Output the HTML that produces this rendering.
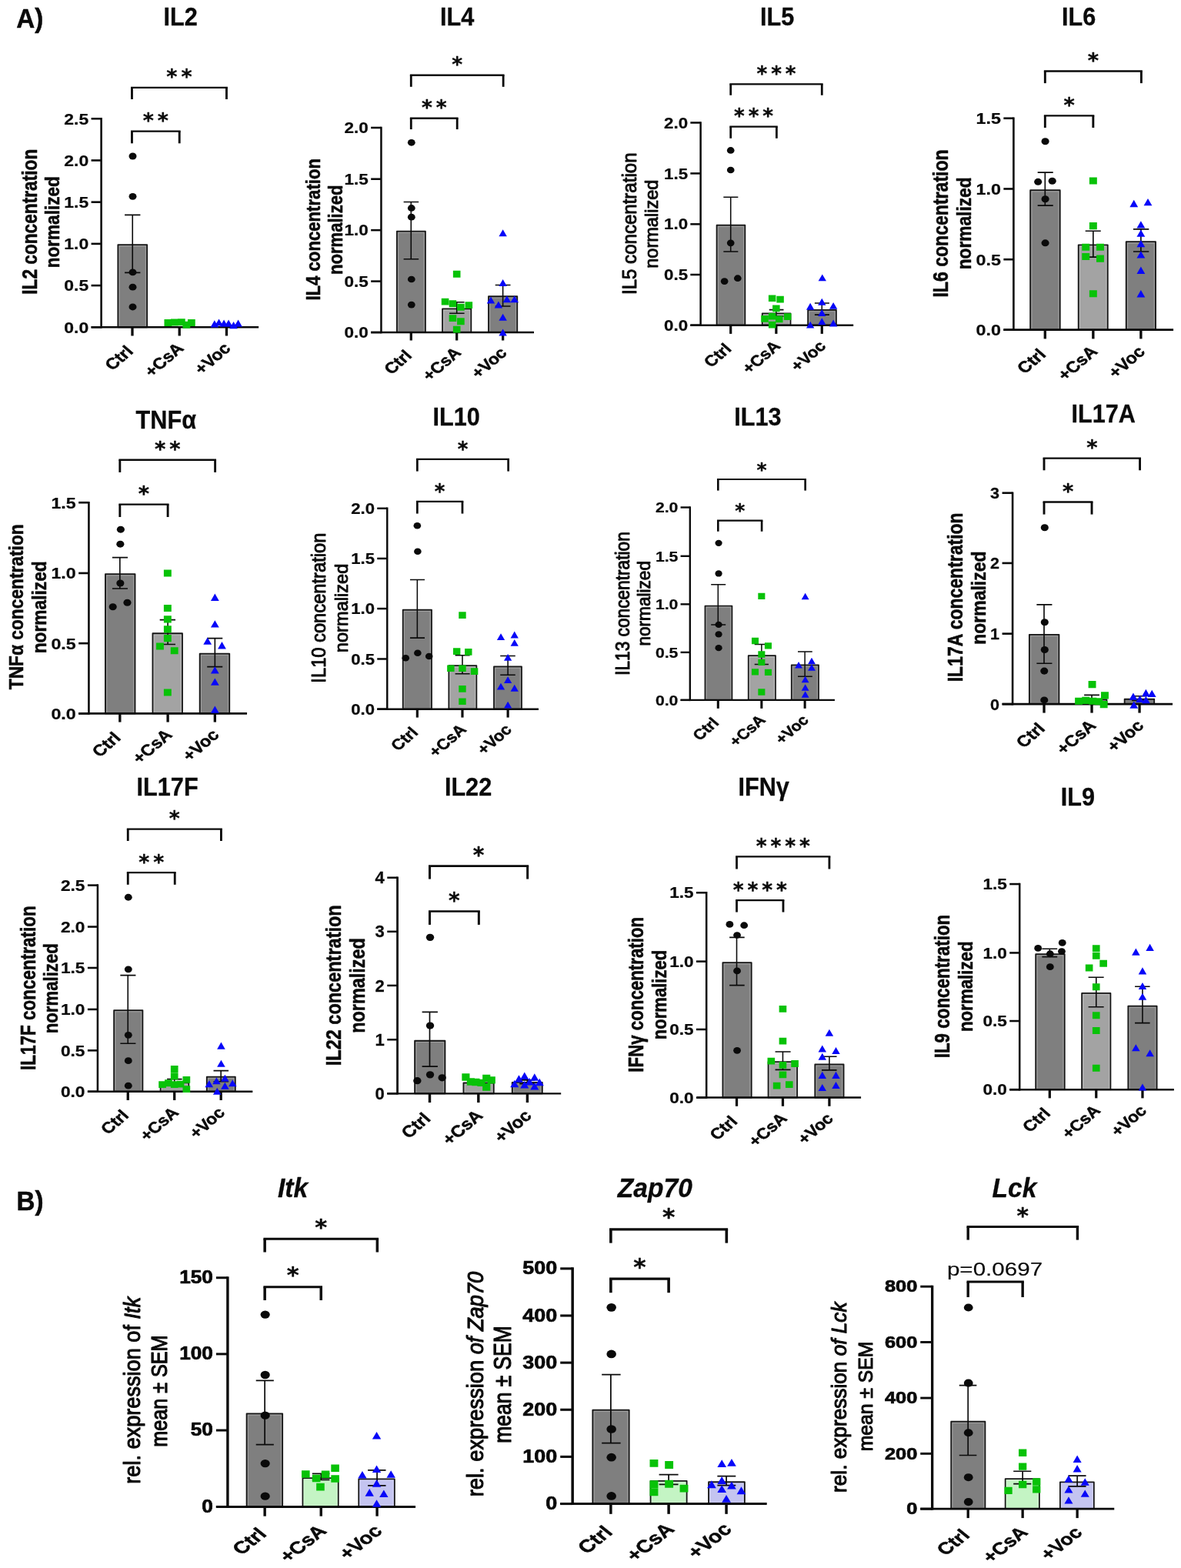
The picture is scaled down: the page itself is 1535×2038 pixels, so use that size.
<!DOCTYPE html>
<html lang="en">
<head>
<meta charset="utf-8">
<title>Cytokine concentrations and kinase expression</title>
<style>
html,body{margin:0;padding:0;background:#fff;}
body{width:1535px;height:2038px;overflow:hidden;}
svg{display:block;}
.s{font-family:"DejaVu Sans","Liberation Sans",sans-serif;}
</style>
</head>
<body>
<svg width="1535" height="2038" viewBox="0 0 1535 2038">
<rect x="0" y="0" width="1535" height="2038" fill="#ffffff"/>
<g font-family='"Liberation Sans", Arial, Helvetica, sans-serif' font-weight="bold" text-anchor="middle" fill="#0a0a0a" stroke="#0a0a0a" stroke-width="0" stroke-linejoin="round">
<g id="p-IL2">
<text transform="translate(234.53 32.87) scale(0.94 1)" font-size="32.6" stroke-width="0.3">IL2</text>
<rect x="153.34" y="318.03" width="37.81" height="107.24" fill="#7f7f7f" stroke="#161616" stroke-width="1.8"/>
<path d="M155.14 423.78V319.83H189.35V423.78" fill="none" stroke="#fff" stroke-opacity="0.3" stroke-width="0.9"/>
<path d="M162.08 279.35H182.41M162.08 354.4H182.41M172.25 279.35V354.4" fill="none" stroke="#0a0a0a" stroke-width="1.6"/>
<line x1="131.6" y1="152.97" x2="131.6" y2="426.58" stroke="#0a0a0a" stroke-width="2.55"/>
<line x1="118.57" y1="425.28" x2="336.16" y2="425.28" stroke="#0a0a0a" stroke-width="2.6"/>
<line x1="118.57" y1="154.27" x2="131.6" y2="154.27" stroke="#0a0a0a" stroke-width="2.6"/>
<text transform="translate(115.17 161.62) scale(1.11 1)" font-size="20.7" stroke-width="0.25" text-anchor="end">2.5</text>
<line x1="118.57" y1="208.47" x2="131.6" y2="208.47" stroke="#0a0a0a" stroke-width="2.6"/>
<text transform="translate(115.17 215.82) scale(1.11 1)" font-size="20.7" stroke-width="0.25" text-anchor="end">2.0</text>
<line x1="118.57" y1="262.67" x2="131.6" y2="262.67" stroke="#0a0a0a" stroke-width="2.6"/>
<text transform="translate(115.17 270.02) scale(1.11 1)" font-size="20.7" stroke-width="0.25" text-anchor="end">1.5</text>
<line x1="118.57" y1="316.87" x2="131.6" y2="316.87" stroke="#0a0a0a" stroke-width="2.6"/>
<text transform="translate(115.17 324.22) scale(1.11 1)" font-size="20.7" stroke-width="0.25" text-anchor="end">1.0</text>
<line x1="118.57" y1="371.07" x2="131.6" y2="371.07" stroke="#0a0a0a" stroke-width="2.6"/>
<text transform="translate(115.17 378.42) scale(1.11 1)" font-size="20.7" stroke-width="0.25" text-anchor="end">0.5</text>
<line x1="118.57" y1="425.28" x2="131.6" y2="425.28" stroke="#0a0a0a" stroke-width="2.6"/>
<text transform="translate(115.17 432.63) scale(1.11 1)" font-size="20.7" stroke-width="0.25" text-anchor="end">0.0</text>
<line x1="171.99" y1="425.28" x2="171.99" y2="436.48" stroke="#0a0a0a" stroke-width="3.3"/>
<line x1="233.22" y1="425.28" x2="233.22" y2="436.48" stroke="#0a0a0a" stroke-width="3.3"/>
<line x1="294.46" y1="425.28" x2="294.46" y2="436.48" stroke="#0a0a0a" stroke-width="3.3"/>
<text transform="translate(176.99 455.48) scale(1.15 1) rotate(-45)" font-size="20.3" stroke-width="0.5" text-anchor="end" x="-3.3">Ctrl</text>
<text transform="translate(238.22 455.48) scale(1.15 1) rotate(-45)" font-size="20.3" stroke-width="0.5" text-anchor="end" x="2.2">+CsA</text>
<text transform="translate(299.46 455.48) scale(1.15 1) rotate(-45)" font-size="20.3" stroke-width="0.5" text-anchor="end" x="1.9">+Voc</text>
<text transform="translate(47.6 288.26) scale(1.2 1) rotate(-90)" font-size="22.69" stroke-width="0.5">IL2 concentration</text>
<text transform="translate(77.1 288.75) scale(1.15 1) rotate(-90)" font-size="22.56" stroke-width="0.5">normalized</text>
<ellipse cx="172.51" cy="203" rx="5" ry="4.45" fill="#0a0a0a"/>
<ellipse cx="172.51" cy="255.37" rx="5" ry="4.45" fill="#0a0a0a"/>
<ellipse cx="172.51" cy="353.88" rx="5" ry="4.45" fill="#0a0a0a"/>
<ellipse cx="172.51" cy="373.16" rx="5" ry="4.45" fill="#0a0a0a"/>
<ellipse cx="172.51" cy="398.96" rx="5" ry="4.45" fill="#0a0a0a"/>
<path d="M213.47 415.04h9.8v9h-9.8zM221.81 414.52h9.8v9h-9.8zM230.93 414.26h9.8v9h-9.8zM237.45 417.65h9.8v9h-9.8zM243.96 415.04h9.8v9h-9.8z" fill="#08c208"/>
<path d="M278.83 416.25l5.35 9.2h-10.7zM284.56 414.42l5.35 9.2h-10.7zM291.07 415.46l5.35 9.2h-10.7zM297.07 415.46l5.35 9.2h-10.7zM303.58 418.07l5.35 9.2h-10.7zM309.58 415.46l5.35 9.2h-10.7z" fill="#0808f8"/>
<line x1="170.04" y1="113.88" x2="295.89" y2="113.88" stroke="#0a0a0a" stroke-width="2.35"/>
<line x1="171.47" y1="113.88" x2="171.47" y2="128.99" stroke="#0a0a0a" stroke-width="2.85"/>
<line x1="294.46" y1="113.88" x2="294.46" y2="128.99" stroke="#0a0a0a" stroke-width="2.85"/>
<text transform="translate(235.46 109.35)" font-size="27" stroke-width="0.35" class="s" letter-spacing="5">**</text>
<line x1="170.04" y1="170.68" x2="234.65" y2="170.68" stroke="#0a0a0a" stroke-width="2.35"/>
<line x1="171.47" y1="170.68" x2="171.47" y2="186.32" stroke="#0a0a0a" stroke-width="2.85"/>
<line x1="233.22" y1="170.68" x2="233.22" y2="186.32" stroke="#0a0a0a" stroke-width="2.85"/>
<text transform="translate(204.85 166.15)" font-size="27" stroke-width="0.35" class="s" letter-spacing="5">**</text>
</g>
<g id="p-IL4">
<text transform="translate(594.2 32.87) scale(0.94 1)" font-size="32.6" stroke-width="0.3">IL4</text>
<rect x="515.87" y="300.56" width="37.06" height="131.49" fill="#7f7f7f" stroke="#161616" stroke-width="1.77"/>
<path d="M517.65 430.55V302.34H551.14V430.55" fill="none" stroke="#fff" stroke-opacity="0.3" stroke-width="0.9"/>
<rect x="575.02" y="401.4" width="37.32" height="30.65" fill="#a3a3a3" stroke="#161616" stroke-width="1.77"/>
<path d="M576.8 430.55V403.19H610.56V430.55" fill="none" stroke="#fff" stroke-opacity="0.3" stroke-width="0.9"/>
<rect x="634.96" y="385.25" width="37.32" height="46.8" fill="#7f7f7f" stroke="#161616" stroke-width="1.77"/>
<path d="M636.74 430.55V387.03H670.49V430.55" fill="none" stroke="#fff" stroke-opacity="0.3" stroke-width="0.9"/>
<path d="M524.63 262.41H544.17M524.63 336.68H544.17M534.27 262.41V336.68" fill="none" stroke="#0a0a0a" stroke-width="1.57"/>
<path d="M584.04 392.7H603.58M584.04 407.3H603.58M593.68 392.7V407.3" fill="none" stroke="#0a0a0a" stroke-width="1.57"/>
<path d="M643.71 370.55H663.52M643.71 397.92H663.52M653.62 370.55V397.92" fill="none" stroke="#0a0a0a" stroke-width="1.57"/>
<line x1="495.44" y1="164.72" x2="495.44" y2="433.33" stroke="#0a0a0a" stroke-width="2.5"/>
<line x1="482.15" y1="432.05" x2="694.01" y2="432.05" stroke="#0a0a0a" stroke-width="2.55"/>
<line x1="482.15" y1="165.99" x2="495.44" y2="165.99" stroke="#0a0a0a" stroke-width="2.55"/>
<text transform="translate(478.81 173.21) scale(1.11 1)" font-size="20.32" stroke-width="0.25" text-anchor="end">2.0</text>
<line x1="482.15" y1="232.7" x2="495.44" y2="232.7" stroke="#0a0a0a" stroke-width="2.55"/>
<text transform="translate(478.81 239.92) scale(1.11 1)" font-size="20.32" stroke-width="0.25" text-anchor="end">1.5</text>
<line x1="482.15" y1="299.15" x2="495.44" y2="299.15" stroke="#0a0a0a" stroke-width="2.55"/>
<text transform="translate(478.81 306.37) scale(1.11 1)" font-size="20.32" stroke-width="0.25" text-anchor="end">1.0</text>
<line x1="482.15" y1="365.6" x2="495.44" y2="365.6" stroke="#0a0a0a" stroke-width="2.55"/>
<text transform="translate(478.81 372.82) scale(1.11 1)" font-size="20.32" stroke-width="0.25" text-anchor="end">0.5</text>
<line x1="482.15" y1="432.05" x2="495.44" y2="432.05" stroke="#0a0a0a" stroke-width="2.55"/>
<text transform="translate(478.81 439.27) scale(1.11 1)" font-size="20.32" stroke-width="0.25" text-anchor="end">0.0</text>
<line x1="534.27" y1="432.05" x2="534.27" y2="442.48" stroke="#0a0a0a" stroke-width="3.24"/>
<line x1="593.68" y1="432.05" x2="593.68" y2="442.48" stroke="#0a0a0a" stroke-width="3.24"/>
<line x1="653.62" y1="432.05" x2="653.62" y2="442.48" stroke="#0a0a0a" stroke-width="3.24"/>
<text transform="translate(539.18 461.13) scale(1.15 1) rotate(-45)" font-size="19.93" stroke-width="0.5" text-anchor="end" x="-3.24">Ctrl</text>
<text transform="translate(598.59 461.13) scale(1.15 1) rotate(-45)" font-size="19.93" stroke-width="0.5" text-anchor="end" x="2.16">+CsA</text>
<text transform="translate(658.52 461.13) scale(1.15 1) rotate(-45)" font-size="19.93" stroke-width="0.5" text-anchor="end" x="1.87">+Voc</text>
<text transform="translate(415.9 298.3) scale(1.2 1) rotate(-90)" font-size="22.17" stroke-width="0.5">IL4 concentration</text>
<text transform="translate(444.9 298.75) scale(1.15 1) rotate(-90)" font-size="22.13" stroke-width="0.5">normalized</text>
<ellipse cx="534.79" cy="185.28" rx="4.91" ry="4.37" fill="#0a0a0a"/>
<ellipse cx="534.79" cy="270.49" rx="4.91" ry="4.37" fill="#0a0a0a"/>
<ellipse cx="534.79" cy="282.21" rx="4.91" ry="4.37" fill="#0a0a0a"/>
<ellipse cx="534.79" cy="363" rx="4.91" ry="4.37" fill="#0a0a0a"/>
<ellipse cx="534.79" cy="396.09" rx="4.91" ry="4.37" fill="#0a0a0a"/>
<path d="M588.87 351.8h9.62v8.84h-9.62zM573.76 387.76h9.62v8.84h-9.62zM583.66 390.37h9.62v8.84h-9.62zM604.51 392.19h9.62v8.84h-9.62zM594.08 394.8h9.62v8.84h-9.62zM583.66 409.13h9.62v8.84h-9.62zM594.08 413.3h9.62v8.84h-9.62zM588.87 423.73h9.62v8.84h-9.62z" fill="#08c208"/>
<path d="M653.62 298.29l5.25 9.03h-10.5zM653.62 362.91l5.25 9.03h-10.5zM637.98 385.58l5.25 9.03h-10.5zM658.83 384.28l5.25 9.03h-10.5zM668.73 384.28l5.25 9.03h-10.5zM647.88 391.58l5.25 9.03h-10.5zM653.62 407.73l5.25 9.03h-10.5zM653.62 427.54l5.25 9.03h-10.5z" fill="#0808f8"/>
<line x1="532.87" y1="97.72" x2="655.54" y2="97.72" stroke="#0a0a0a" stroke-width="2.31"/>
<line x1="534.27" y1="97.72" x2="534.27" y2="112.83" stroke="#0a0a0a" stroke-width="2.8"/>
<line x1="654.14" y1="97.72" x2="654.14" y2="112.83" stroke="#0a0a0a" stroke-width="2.8"/>
<text transform="translate(596.66 93.27)" font-size="26.51" stroke-width="0.35" class="s" letter-spacing="4.91">*</text>
<line x1="532.87" y1="153.75" x2="595.6" y2="153.75" stroke="#0a0a0a" stroke-width="2.31"/>
<line x1="534.27" y1="153.75" x2="534.27" y2="168.08" stroke="#0a0a0a" stroke-width="2.8"/>
<line x1="594.2" y1="153.75" x2="594.2" y2="168.08" stroke="#0a0a0a" stroke-width="2.8"/>
<text transform="translate(566.69 149.3)" font-size="26.51" stroke-width="0.35" class="s" letter-spacing="4.91">**</text>
</g>
<g id="p-IL5">
<text transform="translate(1010.16 32.87) scale(0.94 1)" font-size="32.6" stroke-width="0.3">IL5</text>
<rect x="931.56" y="292.73" width="36.82" height="129.94" fill="#7f7f7f" stroke="#161616" stroke-width="1.75"/>
<path d="M933.33 421.17V294.5H966.6V421.17" fill="none" stroke="#fff" stroke-opacity="0.3" stroke-width="0.9"/>
<rect x="990.71" y="407.39" width="36.82" height="15.28" fill="#a3a3a3" stroke="#161616" stroke-width="1.75"/>
<path d="M992.49 421.17V409.16H1025.76V421.17" fill="none" stroke="#fff" stroke-opacity="0.3" stroke-width="0.9"/>
<rect x="1050.12" y="402.96" width="36.82" height="19.71" fill="#7f7f7f" stroke="#161616" stroke-width="1.75"/>
<path d="M1051.9 421.17V404.73H1085.17V421.17" fill="none" stroke="#fff" stroke-opacity="0.3" stroke-width="0.9"/>
<path d="M940.33 256.16H959.35M940.33 327.04H959.35M949.71 256.16V327.04" fill="none" stroke="#0a0a0a" stroke-width="1.55"/>
<path d="M999.74 402.61H1018.5M999.74 410.94H1018.5M1008.86 402.61V410.94" fill="none" stroke="#0a0a0a" stroke-width="1.55"/>
<path d="M1058.89 394.01H1077.92M1058.89 409.12H1077.92M1068.27 394.01V409.12" fill="none" stroke="#0a0a0a" stroke-width="1.55"/>
<line x1="910.62" y1="158.22" x2="910.62" y2="423.93" stroke="#0a0a0a" stroke-width="2.48"/>
<line x1="897.33" y1="422.67" x2="1109.19" y2="422.67" stroke="#0a0a0a" stroke-width="2.53"/>
<line x1="897.33" y1="159.48" x2="910.62" y2="159.48" stroke="#0a0a0a" stroke-width="2.53"/>
<text transform="translate(894.03 166.62) scale(1.11 1)" font-size="20.1" stroke-width="0.25" text-anchor="end">2.0</text>
<line x1="897.33" y1="225.41" x2="910.62" y2="225.41" stroke="#0a0a0a" stroke-width="2.53"/>
<text transform="translate(894.03 232.54) scale(1.11 1)" font-size="20.1" stroke-width="0.25" text-anchor="end">1.5</text>
<line x1="897.33" y1="291.34" x2="910.62" y2="291.34" stroke="#0a0a0a" stroke-width="2.53"/>
<text transform="translate(894.03 298.47) scale(1.11 1)" font-size="20.1" stroke-width="0.25" text-anchor="end">1.0</text>
<line x1="897.33" y1="357" x2="910.62" y2="357" stroke="#0a0a0a" stroke-width="2.53"/>
<text transform="translate(894.03 364.14) scale(1.11 1)" font-size="20.1" stroke-width="0.25" text-anchor="end">0.5</text>
<line x1="897.33" y1="422.67" x2="910.62" y2="422.67" stroke="#0a0a0a" stroke-width="2.53"/>
<text transform="translate(894.03 429.81) scale(1.11 1)" font-size="20.1" stroke-width="0.25" text-anchor="end">0.0</text>
<line x1="949.71" y1="422.67" x2="949.71" y2="433.88" stroke="#0a0a0a" stroke-width="3.2"/>
<line x1="1008.86" y1="422.67" x2="1008.86" y2="433.88" stroke="#0a0a0a" stroke-width="3.2"/>
<line x1="1068.27" y1="422.67" x2="1068.27" y2="433.88" stroke="#0a0a0a" stroke-width="3.2"/>
<text transform="translate(954.56 452.33) scale(1.15 1) rotate(-45)" font-size="19.72" stroke-width="0.5" text-anchor="end" x="-3.2">Ctrl</text>
<text transform="translate(1013.72 452.33) scale(1.15 1) rotate(-45)" font-size="19.72" stroke-width="0.5" text-anchor="end" x="2.14">+CsA</text>
<text transform="translate(1073.13 452.33) scale(1.15 1) rotate(-45)" font-size="19.72" stroke-width="0.5" text-anchor="end" x="1.85">+Voc</text>
<text transform="translate(827.2 290.73) scale(1.1 1) rotate(-90)" font-size="24.06" font-weight="normal" stroke-width="0.9">IL5 concentration</text>
<text transform="translate(855.3 291.22) scale(1.04 1) rotate(-90)" font-size="23.57" font-weight="normal" stroke-width="0.9">normalized</text>
<ellipse cx="949.71" cy="195.44" rx="4.86" ry="4.32" fill="#0a0a0a"/>
<ellipse cx="949.71" cy="220.98" rx="4.86" ry="4.32" fill="#0a0a0a"/>
<ellipse cx="949.71" cy="315.83" rx="4.86" ry="4.32" fill="#0a0a0a"/>
<ellipse cx="941.63" cy="365.6" rx="4.86" ry="4.32" fill="#0a0a0a"/>
<ellipse cx="958.83" cy="361.69" rx="4.86" ry="4.32" fill="#0a0a0a"/>
<path d="M998.89 383.38h9.52v8.74h-9.52zM1009.31 384.69h9.52v8.74h-9.52zM1004.1 396.41h9.52v8.74h-9.52zM989.25 409.96h9.52v8.74h-9.52zM998.89 406.83h9.52v8.74h-9.52zM1018.95 407.36h9.52v8.74h-9.52zM1008.01 410.48h9.52v8.74h-9.52zM998.89 417.78h9.52v8.74h-9.52z" fill="#08c208"/>
<path d="M1068.79 356.44l5.2 8.93h-10.39zM1068.27 387.71l5.2 8.93h-10.39zM1053.16 393.71l5.2 8.93h-10.39zM1083.13 392.93l5.2 8.93h-10.39zM1068.27 402.05l5.2 8.93h-10.39zM1068.27 413.25l5.2 8.93h-10.39zM1053.16 417.68l5.2 8.93h-10.39zM1083.13 415.6l5.2 8.93h-10.39z" fill="#0808f8"/>
<line x1="948.32" y1="109.45" x2="1069.66" y2="109.45" stroke="#0a0a0a" stroke-width="2.28"/>
<line x1="949.71" y1="109.45" x2="949.71" y2="123.78" stroke="#0a0a0a" stroke-width="2.77"/>
<line x1="1068.27" y1="109.45" x2="1068.27" y2="123.78" stroke="#0a0a0a" stroke-width="2.77"/>
<text transform="translate(1011.42 105.05)" font-size="26.22" stroke-width="0.35" class="s" letter-spacing="4.86">***</text>
<line x1="948.32" y1="164.69" x2="1010.77" y2="164.69" stroke="#0a0a0a" stroke-width="2.28"/>
<line x1="949.71" y1="164.69" x2="949.71" y2="179.8" stroke="#0a0a0a" stroke-width="2.77"/>
<line x1="1009.38" y1="164.69" x2="1009.38" y2="179.8" stroke="#0a0a0a" stroke-width="2.77"/>
<text transform="translate(981.97 160.29)" font-size="26.22" stroke-width="0.35" class="s" letter-spacing="4.86">***</text>
</g>
<g id="p-IL6">
<text transform="translate(1402.1 32.87) scale(0.94 1)" font-size="32.6" stroke-width="0.3">IL6</text>
<rect x="1339.17" y="247.17" width="38.56" height="181.5" fill="#7f7f7f" stroke="#161616" stroke-width="1.83"/>
<path d="M1340.98 427.16V248.98H1375.92V427.16" fill="none" stroke="#fff" stroke-opacity="0.3" stroke-width="0.9"/>
<rect x="1401.71" y="318.31" width="38.04" height="110.36" fill="#a3a3a3" stroke="#161616" stroke-width="1.83"/>
<path d="M1403.52 427.16V320.12H1437.94V427.16" fill="none" stroke="#fff" stroke-opacity="0.3" stroke-width="0.9"/>
<rect x="1463.73" y="314.14" width="38.3" height="114.53" fill="#7f7f7f" stroke="#161616" stroke-width="1.83"/>
<path d="M1465.54 427.16V315.95H1500.22V427.16" fill="none" stroke="#fff" stroke-opacity="0.3" stroke-width="0.9"/>
<path d="M1348.68 224.1H1368.75M1348.68 267.1H1368.75M1358.32 224.1V267.1" fill="none" stroke="#0a0a0a" stroke-width="1.62"/>
<path d="M1410.7 300.2H1430.77M1410.7 334.07H1430.77M1420.86 300.2V334.07" fill="none" stroke="#0a0a0a" stroke-width="1.62"/>
<path d="M1472.98 297.85H1493.31M1472.98 327.04H1493.31M1482.88 297.85V327.04" fill="none" stroke="#0a0a0a" stroke-width="1.62"/>
<line x1="1317.41" y1="152.43" x2="1317.41" y2="429.98" stroke="#0a0a0a" stroke-width="2.59"/>
<line x1="1304.38" y1="428.66" x2="1525.1" y2="428.66" stroke="#0a0a0a" stroke-width="2.64"/>
<line x1="1304.38" y1="153.75" x2="1317.41" y2="153.75" stroke="#0a0a0a" stroke-width="2.64"/>
<text transform="translate(1300.93 161.2) scale(1.11 1)" font-size="21" stroke-width="0.25" text-anchor="end">1.5</text>
<line x1="1304.38" y1="245.47" x2="1317.41" y2="245.47" stroke="#0a0a0a" stroke-width="2.64"/>
<text transform="translate(1300.93 252.93) scale(1.11 1)" font-size="21" stroke-width="0.25" text-anchor="end">1.0</text>
<line x1="1304.38" y1="337.2" x2="1317.41" y2="337.2" stroke="#0a0a0a" stroke-width="2.64"/>
<text transform="translate(1300.93 344.65) scale(1.11 1)" font-size="21" stroke-width="0.25" text-anchor="end">0.5</text>
<line x1="1304.38" y1="428.66" x2="1317.41" y2="428.66" stroke="#0a0a0a" stroke-width="2.64"/>
<text transform="translate(1300.93 436.12) scale(1.11 1)" font-size="21" stroke-width="0.25" text-anchor="end">0.0</text>
<line x1="1358.32" y1="428.66" x2="1358.32" y2="440.39" stroke="#0a0a0a" stroke-width="3.35"/>
<line x1="1420.86" y1="428.66" x2="1420.86" y2="440.39" stroke="#0a0a0a" stroke-width="3.35"/>
<line x1="1482.88" y1="428.66" x2="1482.88" y2="440.39" stroke="#0a0a0a" stroke-width="3.35"/>
<text transform="translate(1363.39 459.67) scale(1.15 1) rotate(-45)" font-size="20.59" stroke-width="0.5" text-anchor="end" x="-3.35">Ctrl</text>
<text transform="translate(1425.94 459.67) scale(1.15 1) rotate(-45)" font-size="20.59" stroke-width="0.5" text-anchor="end" x="2.23">+CsA</text>
<text transform="translate(1487.96 459.67) scale(1.15 1) rotate(-45)" font-size="20.59" stroke-width="0.5" text-anchor="end" x="1.93">+Voc</text>
<text transform="translate(1231.5 290.46) scale(1.16 1) rotate(-90)" font-size="23.08" stroke-width="0.5">IL6 concentration</text>
<text transform="translate(1261.5 290.35) scale(1.11 1) rotate(-90)" font-size="22.75" stroke-width="0.5">normalized</text>
<ellipse cx="1358.58" cy="183.71" rx="5.07" ry="4.51" fill="#0a0a0a"/>
<ellipse cx="1349.2" cy="236.35" rx="5.07" ry="4.51" fill="#0a0a0a"/>
<ellipse cx="1367.7" cy="235.31" rx="5.07" ry="4.51" fill="#0a0a0a"/>
<ellipse cx="1358.58" cy="258.76" rx="5.07" ry="4.51" fill="#0a0a0a"/>
<ellipse cx="1358.58" cy="315.83" rx="5.07" ry="4.51" fill="#0a0a0a"/>
<path d="M1415.89 230.48h9.94v9.13h-9.94zM1415.89 289.12h9.94v9.13h-9.94zM1406.25 316.74h9.94v9.13h-9.94zM1425.01 316.74h9.94v9.13h-9.94zM1406.25 328.99h9.94v9.13h-9.94zM1425.01 331.59h9.94v9.13h-9.94zM1415.89 377.19h9.94v9.13h-9.94z" fill="#08c208"/>
<path d="M1473.76 259.83l5.43 9.33h-10.85zM1492 258l5.43 9.33h-10.85zM1482.88 287.19l5.43 9.33h-10.85zM1482.88 298.4l5.43 9.33h-10.85zM1482.88 311.95l5.43 9.33h-10.85zM1482.88 326.28l5.43 9.33h-10.85zM1482.88 346.6l5.43 9.33h-10.85zM1482.88 377.09l5.43 9.33h-10.85z" fill="#0808f8"/>
<line x1="1356.88" y1="92.51" x2="1484.85" y2="92.51" stroke="#0a0a0a" stroke-width="2.38"/>
<line x1="1358.32" y1="92.51" x2="1358.32" y2="108.14" stroke="#0a0a0a" stroke-width="2.89"/>
<line x1="1483.4" y1="92.51" x2="1483.4" y2="108.14" stroke="#0a0a0a" stroke-width="2.89"/>
<text transform="translate(1423.4 87.91)" font-size="27.39" stroke-width="0.35" class="s" letter-spacing="5.07">*</text>
<line x1="1356.88" y1="150.36" x2="1422.31" y2="150.36" stroke="#0a0a0a" stroke-width="2.38"/>
<line x1="1358.32" y1="150.36" x2="1358.32" y2="165.99" stroke="#0a0a0a" stroke-width="2.89"/>
<line x1="1420.86" y1="150.36" x2="1420.86" y2="165.99" stroke="#0a0a0a" stroke-width="2.89"/>
<text transform="translate(1392.13 145.76)" font-size="27.39" stroke-width="0.35" class="s" letter-spacing="5.07">*</text>
</g>
<g id="p-TNFa">
<text transform="translate(215.77 557.11) scale(0.94 1)" font-size="32.6" stroke-width="0.3">TNFα</text>
<rect x="136.94" y="746.12" width="38.57" height="181.24" fill="#7f7f7f" stroke="#161616" stroke-width="1.82"/>
<path d="M138.75 925.86V747.93H173.7V925.86" fill="none" stroke="#fff" stroke-opacity="0.3" stroke-width="0.9"/>
<rect x="198.43" y="823.26" width="38.57" height="104.11" fill="#a3a3a3" stroke="#161616" stroke-width="1.82"/>
<path d="M200.25 925.86V825.07H235.19V925.86" fill="none" stroke="#fff" stroke-opacity="0.3" stroke-width="0.9"/>
<rect x="259.67" y="849.57" width="38.57" height="77.79" fill="#7f7f7f" stroke="#161616" stroke-width="1.82"/>
<path d="M261.48 925.86V851.39H296.43V925.86" fill="none" stroke="#fff" stroke-opacity="0.3" stroke-width="0.9"/>
<path d="M145.93 724.63H165.99M145.93 765.02H165.99M155.83 724.63V765.02" fill="none" stroke="#0a0a0a" stroke-width="1.62"/>
<path d="M207.69 805.67H228.01M207.69 837.46H228.01M218.11 805.67V837.46" fill="none" stroke="#0a0a0a" stroke-width="1.62"/>
<path d="M269.19 829.64H289.25M269.19 866.64H289.25M279.35 829.64V866.64" fill="none" stroke="#0a0a0a" stroke-width="1.62"/>
<line x1="115.44" y1="651.91" x2="115.44" y2="928.68" stroke="#0a0a0a" stroke-width="2.58"/>
<line x1="102.15" y1="927.36" x2="321.04" y2="927.36" stroke="#0a0a0a" stroke-width="2.63"/>
<line x1="102.15" y1="653.22" x2="115.44" y2="653.22" stroke="#0a0a0a" stroke-width="2.63"/>
<text transform="translate(98.71 660.66) scale(1.11 1)" font-size="20.94" stroke-width="0.25" text-anchor="end">1.5</text>
<line x1="102.15" y1="744.95" x2="115.44" y2="744.95" stroke="#0a0a0a" stroke-width="2.63"/>
<text transform="translate(98.71 752.38) scale(1.11 1)" font-size="20.94" stroke-width="0.25" text-anchor="end">1.0</text>
<line x1="102.15" y1="836.16" x2="115.44" y2="836.16" stroke="#0a0a0a" stroke-width="2.63"/>
<text transform="translate(98.71 843.59) scale(1.11 1)" font-size="20.94" stroke-width="0.25" text-anchor="end">0.5</text>
<line x1="102.15" y1="927.36" x2="115.44" y2="927.36" stroke="#0a0a0a" stroke-width="2.63"/>
<text transform="translate(98.71 934.8) scale(1.11 1)" font-size="20.94" stroke-width="0.25" text-anchor="end">0.0</text>
<line x1="155.83" y1="927.36" x2="155.83" y2="938.57" stroke="#0a0a0a" stroke-width="3.34"/>
<line x1="218.11" y1="927.36" x2="218.11" y2="938.57" stroke="#0a0a0a" stroke-width="3.34"/>
<line x1="279.35" y1="927.36" x2="279.35" y2="938.57" stroke="#0a0a0a" stroke-width="3.34"/>
<text transform="translate(160.89 957.79) scale(1.15 1) rotate(-45)" font-size="20.53" stroke-width="0.5" text-anchor="end" x="-3.34">Ctrl</text>
<text transform="translate(223.17 957.79) scale(1.15 1) rotate(-45)" font-size="20.53" stroke-width="0.5" text-anchor="end" x="2.23">+CsA</text>
<text transform="translate(284.41 957.79) scale(1.15 1) rotate(-45)" font-size="20.53" stroke-width="0.5" text-anchor="end" x="1.92">+Voc</text>
<text transform="translate(29.7 788.77) scale(1.15 1) rotate(-90)" font-size="22.77" stroke-width="0.5">TNFα concentration</text>
<text transform="translate(59.7 789.25) scale(1.16 1) rotate(-90)" font-size="22.75" stroke-width="0.5">normalized</text>
<ellipse cx="156.87" cy="688.14" rx="5.06" ry="4.5" fill="#0a0a0a"/>
<ellipse cx="156.35" cy="707.17" rx="5.06" ry="4.5" fill="#0a0a0a"/>
<ellipse cx="156.35" cy="757.98" rx="5.06" ry="4.5" fill="#0a0a0a"/>
<ellipse cx="146.71" cy="788.73" rx="5.06" ry="4.5" fill="#0a0a0a"/>
<ellipse cx="165.47" cy="783.26" rx="5.06" ry="4.5" fill="#0a0a0a"/>
<path d="M212.89 740.4h9.91v9.1h-9.91zM212.89 786h9.91v9.1h-9.91zM212.89 800.33h9.91v9.1h-9.91zM212.89 813.36h9.91v9.1h-9.91zM212.89 825.09h9.91v9.1h-9.91zM202.99 835.51h9.91v9.1h-9.91zM221.75 841.25h9.91v9.1h-9.91zM212.89 895.45h9.91v9.1h-9.91z" fill="#08c208"/>
<path d="M279.35 771.57l5.41 9.31h-10.82zM279.35 806.23l5.41 9.31h-10.82zM269.71 828.38l5.41 9.31h-10.82zM288.47 834.11l5.41 9.31h-10.82zM279.35 866.16l5.41 9.31h-10.82zM279.35 881.54l5.41 9.31h-10.82zM279.35 917.5l5.41 9.31h-10.82z" fill="#0808f8"/>
<line x1="154.39" y1="597.72" x2="281.05" y2="597.72" stroke="#0a0a0a" stroke-width="2.38"/>
<line x1="155.83" y1="597.72" x2="155.83" y2="613.88" stroke="#0a0a0a" stroke-width="2.88"/>
<line x1="279.61" y1="597.72" x2="279.61" y2="613.88" stroke="#0a0a0a" stroke-width="2.88"/>
<text transform="translate(220.25 593.14)" font-size="27.31" stroke-width="0.35" class="s" letter-spacing="5.06">**</text>
<line x1="154.39" y1="655.57" x2="219.55" y2="655.57" stroke="#0a0a0a" stroke-width="2.38"/>
<line x1="155.83" y1="655.57" x2="155.83" y2="671.99" stroke="#0a0a0a" stroke-width="2.88"/>
<line x1="218.11" y1="655.57" x2="218.11" y2="671.99" stroke="#0a0a0a" stroke-width="2.88"/>
<text transform="translate(189.5 650.99)" font-size="27.31" stroke-width="0.35" class="s" letter-spacing="5.06">*</text>
</g>
<g id="p-IL10">
<text transform="translate(593.16 553.2) scale(0.94 1)" font-size="32.6" stroke-width="0.3">IL10</text>
<rect x="523.67" y="792.72" width="37.36" height="128.91" fill="#7f7f7f" stroke="#161616" stroke-width="1.73"/>
<path d="M525.43 920.13V794.49H559.26V920.13" fill="none" stroke="#fff" stroke-opacity="0.3" stroke-width="0.9"/>
<rect x="583.34" y="865.17" width="36.05" height="56.46" fill="#a3a3a3" stroke="#161616" stroke-width="1.73"/>
<path d="M585.11 920.13V866.93H617.63V920.13" fill="none" stroke="#fff" stroke-opacity="0.3" stroke-width="0.9"/>
<rect x="641.97" y="866.47" width="36.05" height="55.16" fill="#7f7f7f" stroke="#161616" stroke-width="1.73"/>
<path d="M643.74 920.13V868.24H676.26V920.13" fill="none" stroke="#fff" stroke-opacity="0.3" stroke-width="0.9"/>
<path d="M532.96 753.55H551.99M532.96 829.12H551.99M542.35 753.55V829.12" fill="none" stroke="#0a0a0a" stroke-width="1.54"/>
<path d="M591.6 851.79H610.62M591.6 875.77H610.62M600.98 851.79V875.77" fill="none" stroke="#0a0a0a" stroke-width="1.54"/>
<path d="M650.23 852.57H669.77M650.23 877.33H669.77M660.13 852.57V877.33" fill="none" stroke="#0a0a0a" stroke-width="1.54"/>
<line x1="503.26" y1="659.53" x2="503.26" y2="922.88" stroke="#0a0a0a" stroke-width="2.45"/>
<line x1="490.23" y1="921.63" x2="700" y2="921.63" stroke="#0a0a0a" stroke-width="2.5"/>
<line x1="490.23" y1="660.78" x2="503.26" y2="660.78" stroke="#0a0a0a" stroke-width="2.5"/>
<text transform="translate(486.96 667.85) scale(1.11 1)" font-size="19.92" stroke-width="0.25" text-anchor="end">2.0</text>
<line x1="490.23" y1="725.93" x2="503.26" y2="725.93" stroke="#0a0a0a" stroke-width="2.5"/>
<text transform="translate(486.96 733) scale(1.11 1)" font-size="19.92" stroke-width="0.25" text-anchor="end">1.5</text>
<line x1="490.23" y1="791.07" x2="503.26" y2="791.07" stroke="#0a0a0a" stroke-width="2.5"/>
<text transform="translate(486.96 798.15) scale(1.11 1)" font-size="19.92" stroke-width="0.25" text-anchor="end">1.0</text>
<line x1="490.23" y1="856.48" x2="503.26" y2="856.48" stroke="#0a0a0a" stroke-width="2.5"/>
<text transform="translate(486.96 863.56) scale(1.11 1)" font-size="19.92" stroke-width="0.25" text-anchor="end">0.5</text>
<line x1="490.23" y1="921.63" x2="503.26" y2="921.63" stroke="#0a0a0a" stroke-width="2.5"/>
<text transform="translate(486.96 928.7) scale(1.11 1)" font-size="19.92" stroke-width="0.25" text-anchor="end">0.0</text>
<line x1="542.35" y1="921.63" x2="542.35" y2="932.57" stroke="#0a0a0a" stroke-width="3.18"/>
<line x1="600.98" y1="921.63" x2="600.98" y2="932.57" stroke="#0a0a0a" stroke-width="3.18"/>
<line x1="660.13" y1="921.63" x2="660.13" y2="932.57" stroke="#0a0a0a" stroke-width="3.18"/>
<text transform="translate(547.16 950.86) scale(1.15 1) rotate(-45)" font-size="19.54" stroke-width="0.5" text-anchor="end" x="-3.18">Ctrl</text>
<text transform="translate(605.79 950.86) scale(1.15 1) rotate(-45)" font-size="19.54" stroke-width="0.5" text-anchor="end" x="2.12">+CsA</text>
<text transform="translate(664.94 950.86) scale(1.15 1) rotate(-45)" font-size="19.54" stroke-width="0.5" text-anchor="end" x="1.83">+Voc</text>
<text transform="translate(423.3 790.12) scale(1.08 1) rotate(-90)" font-size="23.72" font-weight="normal" stroke-width="0.9">IL10 concentration</text>
<text transform="translate(451.5 790.42) scale(1.03 1) rotate(-90)" font-size="23.61" font-weight="normal" stroke-width="0.9">normalized</text>
<ellipse cx="542.35" cy="683.19" rx="4.81" ry="4.28" fill="#0a0a0a"/>
<ellipse cx="542.87" cy="716.81" rx="4.81" ry="4.28" fill="#0a0a0a"/>
<ellipse cx="542.87" cy="848.66" rx="4.81" ry="4.28" fill="#0a0a0a"/>
<ellipse cx="527.23" cy="855.18" rx="4.81" ry="4.28" fill="#0a0a0a"/>
<ellipse cx="557.72" cy="853.09" rx="4.81" ry="4.28" fill="#0a0a0a"/>
<path d="M596.26 795.34h9.43v8.66h-9.43zM588.96 842.25h9.43v8.66h-9.43zM604.08 843.03h9.43v8.66h-9.43zM581.15 864.4h9.43v8.66h-9.43zM596.26 864.4h9.43v8.66h-9.43zM611.9 868.31h9.43v8.66h-9.43zM596.26 890.98h9.43v8.66h-9.43zM596.26 907.39h9.43v8.66h-9.43z" fill="#08c208"/>
<path d="M651.01 823.13l5.15 8.86h-10.3zM668.73 820.52l5.15 8.86h-10.3zM668.73 830.95l5.15 8.86h-10.3zM660.13 849.97l5.15 8.86h-10.3zM660.13 879.16l5.15 8.86h-10.3zM651.01 887.75l5.15 8.86h-10.3zM668.73 889.84l5.15 8.86h-10.3zM660.13 911.73l5.15 8.86h-10.3z" fill="#0808f8"/>
<line x1="540.97" y1="596.94" x2="662.02" y2="596.94" stroke="#0a0a0a" stroke-width="2.26"/>
<line x1="542.35" y1="596.94" x2="542.35" y2="612.57" stroke="#0a0a0a" stroke-width="2.74"/>
<line x1="660.65" y1="596.94" x2="660.65" y2="612.57" stroke="#0a0a0a" stroke-width="2.74"/>
<text transform="translate(603.9 592.58)" font-size="25.99" stroke-width="0.35" class="s" letter-spacing="4.81">*</text>
<line x1="540.97" y1="651.92" x2="602.35" y2="651.92" stroke="#0a0a0a" stroke-width="2.26"/>
<line x1="542.35" y1="651.92" x2="542.35" y2="667.56" stroke="#0a0a0a" stroke-width="2.74"/>
<line x1="600.98" y1="651.92" x2="600.98" y2="667.56" stroke="#0a0a0a" stroke-width="2.74"/>
<text transform="translate(574.07 647.56)" font-size="25.99" stroke-width="0.35" class="s" letter-spacing="4.81">*</text>
</g>
<g id="p-IL13">
<text transform="translate(984.89 553.2) scale(0.94 1)" font-size="32.6" stroke-width="0.3">IL13</text>
<rect x="916.4" y="787.48" width="35.08" height="122.43" fill="#7f7f7f" stroke="#161616" stroke-width="1.66"/>
<path d="M918.13 908.4V789.21H949.75V908.4" fill="none" stroke="#fff" stroke-opacity="0.3" stroke-width="0.9"/>
<rect x="972.69" y="852.1" width="35.34" height="57.8" fill="#a3a3a3" stroke="#161616" stroke-width="1.66"/>
<path d="M974.42 908.4V853.83H1006.3V908.4" fill="none" stroke="#fff" stroke-opacity="0.3" stroke-width="0.9"/>
<rect x="1028.71" y="864.35" width="35.34" height="45.55" fill="#7f7f7f" stroke="#161616" stroke-width="1.66"/>
<path d="M1030.45 908.4V866.08H1062.32V908.4" fill="none" stroke="#fff" stroke-opacity="0.3" stroke-width="0.9"/>
<path d="M924.17 759.8H943.19M924.17 811.92H943.19M933.29 759.8V811.92" fill="none" stroke="#0a0a0a" stroke-width="1.48"/>
<path d="M980.72 837.46H998.96M980.72 863.52H998.96M989.84 837.46V863.52" fill="none" stroke="#0a0a0a" stroke-width="1.48"/>
<path d="M1037 847.1H1055.77M1037 879.15H1055.77M1046.12 847.1V879.15" fill="none" stroke="#0a0a0a" stroke-width="1.48"/>
<line x1="896.81" y1="658.28" x2="896.81" y2="911.1" stroke="#0a0a0a" stroke-width="2.36"/>
<line x1="884.56" y1="909.9" x2="1084.95" y2="909.9" stroke="#0a0a0a" stroke-width="2.4"/>
<line x1="884.56" y1="659.48" x2="896.81" y2="659.48" stroke="#0a0a0a" stroke-width="2.4"/>
<text transform="translate(881.42 666.27) scale(1.11 1)" font-size="19.13" stroke-width="0.25" text-anchor="end">2.0</text>
<line x1="884.56" y1="722.8" x2="896.81" y2="722.8" stroke="#0a0a0a" stroke-width="2.4"/>
<text transform="translate(881.42 729.59) scale(1.11 1)" font-size="19.13" stroke-width="0.25" text-anchor="end">1.5</text>
<line x1="884.56" y1="785.34" x2="896.81" y2="785.34" stroke="#0a0a0a" stroke-width="2.4"/>
<text transform="translate(881.42 792.13) scale(1.11 1)" font-size="19.13" stroke-width="0.25" text-anchor="end">1.0</text>
<line x1="884.56" y1="847.88" x2="896.81" y2="847.88" stroke="#0a0a0a" stroke-width="2.4"/>
<text transform="translate(881.42 854.67) scale(1.11 1)" font-size="19.13" stroke-width="0.25" text-anchor="end">0.5</text>
<line x1="884.56" y1="909.9" x2="896.81" y2="909.9" stroke="#0a0a0a" stroke-width="2.4"/>
<text transform="translate(881.42 916.69) scale(1.11 1)" font-size="19.13" stroke-width="0.25" text-anchor="end">0.0</text>
<line x1="933.29" y1="909.9" x2="933.29" y2="920.85" stroke="#0a0a0a" stroke-width="3.05"/>
<line x1="989.84" y1="909.9" x2="989.84" y2="920.85" stroke="#0a0a0a" stroke-width="3.05"/>
<line x1="1046.12" y1="909.9" x2="1046.12" y2="920.85" stroke="#0a0a0a" stroke-width="3.05"/>
<text transform="translate(937.91 938.4) scale(1.15 1) rotate(-45)" font-size="18.76" stroke-width="0.5" text-anchor="end" x="-3.05">Ctrl</text>
<text transform="translate(994.46 938.4) scale(1.15 1) rotate(-45)" font-size="18.76" stroke-width="0.5" text-anchor="end" x="2.03">+CsA</text>
<text transform="translate(1050.74 938.4) scale(1.15 1) rotate(-45)" font-size="18.76" stroke-width="0.5" text-anchor="end" x="1.76">+Voc</text>
<text transform="translate(818 784.56) scale(1.1 1) rotate(-90)" font-size="22.69" font-weight="normal" stroke-width="0.9">IL13 concentration</text>
<text transform="translate(844.8 784.27) scale(1.04 1) rotate(-90)" font-size="22.62" font-weight="normal" stroke-width="0.9">normalized</text>
<ellipse cx="934.07" cy="705.86" rx="4.62" ry="4.11" fill="#0a0a0a"/>
<ellipse cx="934.07" cy="745.47" rx="4.62" ry="4.11" fill="#0a0a0a"/>
<ellipse cx="934.07" cy="811.92" rx="4.62" ry="4.11" fill="#0a0a0a"/>
<ellipse cx="934.07" cy="824.43" rx="4.62" ry="4.11" fill="#0a0a0a"/>
<ellipse cx="934.07" cy="842.15" rx="4.62" ry="4.11" fill="#0a0a0a"/>
<path d="M985.31 770.76h9.06v8.32h-9.06zM976.97 828.87h9.06v8.32h-9.06zM993.91 835.13h9.06v8.32h-9.06zM985.31 846.33h9.06v8.32h-9.06zM985.31 856.75h9.06v8.32h-9.06zM976.97 869.26h9.06v8.32h-9.06zM993.91 869.78h9.06v8.32h-9.06zM985.31 895.32h9.06v8.32h-9.06z" fill="#08c208"/>
<path d="M1046.64 770.67l4.94 8.5h-9.89zM1038.05 860.05l4.94 8.5h-9.89zM1054.98 854.84l4.94 8.5h-9.89zM1054.98 863.18l4.94 8.5h-9.89zM1046.64 878.81l4.94 8.5h-9.89zM1046.64 889.23l4.94 8.5h-9.89zM1046.64 898.36l4.94 8.5h-9.89z" fill="#0808f8"/>
<line x1="931.97" y1="623" x2="1047.96" y2="623" stroke="#0a0a0a" stroke-width="2.17"/>
<line x1="933.29" y1="623" x2="933.29" y2="637.59" stroke="#0a0a0a" stroke-width="2.63"/>
<line x1="1046.64" y1="623" x2="1046.64" y2="637.59" stroke="#0a0a0a" stroke-width="2.63"/>
<text transform="translate(992.28 618.81)" font-size="24.95" stroke-width="0.35" class="s" letter-spacing="4.62">*</text>
<line x1="931.97" y1="676.68" x2="991.41" y2="676.68" stroke="#0a0a0a" stroke-width="2.17"/>
<line x1="933.29" y1="676.68" x2="933.29" y2="690.75" stroke="#0a0a0a" stroke-width="2.63"/>
<line x1="990.1" y1="676.68" x2="990.1" y2="690.75" stroke="#0a0a0a" stroke-width="2.63"/>
<text transform="translate(964 672.49)" font-size="24.95" stroke-width="0.35" class="s" letter-spacing="4.62">*</text>
</g>
<g id="p-IL17A">
<text transform="translate(1434.15 549.29) scale(0.94 1)" font-size="32.6" stroke-width="0.3">IL17A</text>
<rect x="1337.87" y="824.82" width="38.57" height="90.29" fill="#7f7f7f" stroke="#161616" stroke-width="1.82"/>
<path d="M1339.68 913.61V826.63H1374.62V913.61" fill="none" stroke="#fff" stroke-opacity="0.3" stroke-width="0.9"/>
<rect x="1399.89" y="909.25" width="38.57" height="5.86" fill="#a3a3a3" stroke="#161616" stroke-width="1.82"/>
<rect x="1461.64" y="908.73" width="38.57" height="6.39" fill="#7f7f7f" stroke="#161616" stroke-width="1.82"/>
<path d="M1347.38 785.86H1367.44M1347.38 862.21H1367.44M1357.02 785.86V862.21" fill="none" stroke="#0a0a0a" stroke-width="1.62"/>
<path d="M1409.14 903.39H1428.94M1409.14 911.73H1428.94M1419.04 903.39V911.73" fill="none" stroke="#0a0a0a" stroke-width="1.62"/>
<path d="M1471.16 904.69H1490.7M1471.16 910.42H1490.7M1481.06 904.69V910.42" fill="none" stroke="#0a0a0a" stroke-width="1.62"/>
<line x1="1316.11" y1="639.4" x2="1316.11" y2="916.43" stroke="#0a0a0a" stroke-width="2.58"/>
<line x1="1302.56" y1="915.11" x2="1524.06" y2="915.11" stroke="#0a0a0a" stroke-width="2.63"/>
<line x1="1302.56" y1="640.72" x2="1316.11" y2="640.72" stroke="#0a0a0a" stroke-width="2.63"/>
<text transform="translate(1299.11 648.16) scale(1.03 1)" font-size="20.96" stroke-width="0.25" text-anchor="end">3</text>
<line x1="1302.56" y1="731.92" x2="1316.11" y2="731.92" stroke="#0a0a0a" stroke-width="2.63"/>
<text transform="translate(1299.11 739.36) scale(1.03 1)" font-size="20.96" stroke-width="0.25" text-anchor="end">2</text>
<line x1="1302.56" y1="823.65" x2="1316.11" y2="823.65" stroke="#0a0a0a" stroke-width="2.63"/>
<text transform="translate(1299.11 831.09) scale(1.03 1)" font-size="20.96" stroke-width="0.25" text-anchor="end">1</text>
<line x1="1302.56" y1="915.11" x2="1316.11" y2="915.11" stroke="#0a0a0a" stroke-width="2.63"/>
<text transform="translate(1299.11 922.55) scale(1.03 1)" font-size="20.96" stroke-width="0.25" text-anchor="end">0</text>
<line x1="1357.02" y1="915.11" x2="1357.02" y2="926.58" stroke="#0a0a0a" stroke-width="3.34"/>
<line x1="1419.04" y1="915.11" x2="1419.04" y2="926.58" stroke="#0a0a0a" stroke-width="3.34"/>
<line x1="1481.06" y1="915.11" x2="1481.06" y2="926.58" stroke="#0a0a0a" stroke-width="3.34"/>
<text transform="translate(1362.08 945.82) scale(1.15 1) rotate(-45)" font-size="20.55" stroke-width="0.5" text-anchor="end" x="-3.34">Ctrl</text>
<text transform="translate(1424.1 945.82) scale(1.15 1) rotate(-45)" font-size="20.55" stroke-width="0.5" text-anchor="end" x="2.23">+CsA</text>
<text transform="translate(1486.12 945.82) scale(1.15 1) rotate(-45)" font-size="20.55" stroke-width="0.5" text-anchor="end" x="1.92">+Voc</text>
<text transform="translate(1251.2 776.36) scale(1.21 1) rotate(-90)" font-size="22.97" stroke-width="0.5">IL17A concentration</text>
<text transform="translate(1281 777.15) scale(1.12 1) rotate(-90)" font-size="22.98" stroke-width="0.5">normalized</text>
<ellipse cx="1357.8" cy="685.8" rx="5.06" ry="4.51" fill="#0a0a0a"/>
<ellipse cx="1357.8" cy="808.79" rx="5.06" ry="4.51" fill="#0a0a0a"/>
<ellipse cx="1357.8" cy="844.5" rx="5.06" ry="4.51" fill="#0a0a0a"/>
<ellipse cx="1357.28" cy="872.12" rx="5.06" ry="4.51" fill="#0a0a0a"/>
<ellipse cx="1357.28" cy="909.9" rx="5.06" ry="4.51" fill="#0a0a0a"/>
<path d="M1414.6 885.02h9.92v9.11h-9.92zM1431.02 899.35h9.92v9.11h-9.92zM1397.14 906.65h9.92v9.11h-9.92zM1406.26 905.87h9.92v9.11h-9.92zM1415.38 906.65h9.92v9.11h-9.92zM1423.2 907.17h9.92v9.11h-9.92zM1429.71 911.08h9.92v9.11h-9.92z" fill="#08c208"/>
<path d="M1472.98 900.55l5.42 9.32h-10.83zM1489.4 895.86l5.42 9.32h-10.83zM1497.21 896.65l5.42 9.32h-10.83zM1481.58 903.68l5.42 9.32h-10.83zM1489.4 904.98l5.42 9.32h-10.83zM1473.76 911.5l5.42 9.32h-10.83z" fill="#0808f8"/>
<line x1="1355.58" y1="595.64" x2="1483.02" y2="595.64" stroke="#0a0a0a" stroke-width="2.38"/>
<line x1="1357.02" y1="595.64" x2="1357.02" y2="611.27" stroke="#0a0a0a" stroke-width="2.89"/>
<line x1="1481.58" y1="595.64" x2="1481.58" y2="611.27" stroke="#0a0a0a" stroke-width="2.89"/>
<text transform="translate(1421.83 591.05)" font-size="27.34" stroke-width="0.35" class="s" letter-spacing="5.06">*</text>
<line x1="1355.58" y1="652.44" x2="1420.48" y2="652.44" stroke="#0a0a0a" stroke-width="2.38"/>
<line x1="1357.02" y1="652.44" x2="1357.02" y2="668.6" stroke="#0a0a0a" stroke-width="2.89"/>
<line x1="1419.04" y1="652.44" x2="1419.04" y2="668.6" stroke="#0a0a0a" stroke-width="2.89"/>
<text transform="translate(1390.56 647.86)" font-size="27.34" stroke-width="0.35" class="s" letter-spacing="5.06">*</text>
</g>
<g id="p-IL17F">
<text transform="translate(217.59 1033.66) scale(0.94 1)" font-size="32.6" stroke-width="0.3">IL17F</text>
<rect x="148.12" y="1313.07" width="37.31" height="105.69" fill="#7f7f7f" stroke="#161616" stroke-width="1.78"/>
<path d="M149.91 1417.26V1314.86H183.64V1417.26" fill="none" stroke="#fff" stroke-opacity="0.3" stroke-width="0.9"/>
<rect x="208.58" y="1407.41" width="36.79" height="11.36" fill="#a3a3a3" stroke="#161616" stroke-width="1.78"/>
<path d="M210.37 1417.26V1409.2H243.57V1417.26" fill="none" stroke="#fff" stroke-opacity="0.3" stroke-width="0.9"/>
<rect x="268.77" y="1399.59" width="37.05" height="19.17" fill="#7f7f7f" stroke="#161616" stroke-width="1.78"/>
<path d="M270.56 1417.26V1401.38H304.03V1417.26" fill="none" stroke="#fff" stroke-opacity="0.3" stroke-width="0.9"/>
<path d="M156.35 1267.62H176.42M156.35 1356.22H176.42M166.25 1267.62V1356.22" fill="none" stroke="#0a0a0a" stroke-width="1.58"/>
<path d="M217.07 1402.61H236.61M217.07 1410.42H236.61M226.71 1402.61V1410.42" fill="none" stroke="#0a0a0a" stroke-width="1.58"/>
<path d="M277.52 1391.66H297.07M277.52 1405.73H297.07M287.17 1391.66V1405.73" fill="none" stroke="#0a0a0a" stroke-width="1.58"/>
<line x1="126.91" y1="1149.33" x2="126.91" y2="1420.05" stroke="#0a0a0a" stroke-width="2.52"/>
<line x1="113.88" y1="1418.76" x2="328.34" y2="1418.76" stroke="#0a0a0a" stroke-width="2.57"/>
<line x1="113.88" y1="1150.62" x2="126.91" y2="1150.62" stroke="#0a0a0a" stroke-width="2.57"/>
<text transform="translate(110.51 1157.89) scale(1.11 1)" font-size="20.48" stroke-width="0.25" text-anchor="end">2.5</text>
<line x1="113.88" y1="1204.56" x2="126.91" y2="1204.56" stroke="#0a0a0a" stroke-width="2.57"/>
<text transform="translate(110.51 1211.83) scale(1.11 1)" font-size="20.48" stroke-width="0.25" text-anchor="end">2.0</text>
<line x1="113.88" y1="1257.98" x2="126.91" y2="1257.98" stroke="#0a0a0a" stroke-width="2.57"/>
<text transform="translate(110.51 1265.25) scale(1.11 1)" font-size="20.48" stroke-width="0.25" text-anchor="end">1.5</text>
<line x1="113.88" y1="1311.92" x2="126.91" y2="1311.92" stroke="#0a0a0a" stroke-width="2.57"/>
<text transform="translate(110.51 1319.19) scale(1.11 1)" font-size="20.48" stroke-width="0.25" text-anchor="end">1.0</text>
<line x1="113.88" y1="1365.34" x2="126.91" y2="1365.34" stroke="#0a0a0a" stroke-width="2.57"/>
<text transform="translate(110.51 1372.61) scale(1.11 1)" font-size="20.48" stroke-width="0.25" text-anchor="end">0.5</text>
<line x1="113.88" y1="1418.76" x2="126.91" y2="1418.76" stroke="#0a0a0a" stroke-width="2.57"/>
<text transform="translate(110.51 1426.03) scale(1.11 1)" font-size="20.48" stroke-width="0.25" text-anchor="end">0.0</text>
<line x1="166.25" y1="1418.76" x2="166.25" y2="1429.97" stroke="#0a0a0a" stroke-width="3.27"/>
<line x1="226.71" y1="1418.76" x2="226.71" y2="1429.97" stroke="#0a0a0a" stroke-width="3.27"/>
<line x1="287.17" y1="1418.76" x2="287.17" y2="1429.97" stroke="#0a0a0a" stroke-width="3.27"/>
<text transform="translate(171.2 1448.77) scale(1.15 1) rotate(-45)" font-size="20.09" stroke-width="0.5" text-anchor="end" x="-3.27">Ctrl</text>
<text transform="translate(231.66 1448.77) scale(1.15 1) rotate(-45)" font-size="20.09" stroke-width="0.5" text-anchor="end" x="2.18">+CsA</text>
<text transform="translate(292.11 1448.77) scale(1.15 1) rotate(-45)" font-size="20.09" stroke-width="0.5" text-anchor="end" x="1.88">+Voc</text>
<text transform="translate(45.9 1284.15) scale(1.21 1) rotate(-90)" font-size="22.49" stroke-width="0.5">IL17F concentration</text>
<text transform="translate(75.3 1284.7) scale(1.19 1) rotate(-90)" font-size="22.19" stroke-width="0.5">normalized</text>
<ellipse cx="166.78" cy="1166.25" rx="4.95" ry="4.4" fill="#0a0a0a"/>
<ellipse cx="166.78" cy="1259.8" rx="4.95" ry="4.4" fill="#0a0a0a"/>
<ellipse cx="166.78" cy="1345.28" rx="4.95" ry="4.4" fill="#0a0a0a"/>
<ellipse cx="166.78" cy="1378.63" rx="4.95" ry="4.4" fill="#0a0a0a"/>
<ellipse cx="166.78" cy="1411.21" rx="4.95" ry="4.4" fill="#0a0a0a"/>
<path d="M221.86 1385.12h9.7v8.91h-9.7zM221.86 1394.24h9.7v8.91h-9.7zM237.5 1398.94h9.7v8.91h-9.7zM206.23 1405.19h9.7v8.91h-9.7zM214.04 1403.37h9.7v8.91h-9.7zM221.86 1405.19h9.7v8.91h-9.7zM229.68 1404.67h9.7v8.91h-9.7zM237.5 1411.18h9.7v8.91h-9.7z" fill="#08c208"/>
<path d="M287.43 1354.54l5.29 9.1h-10.59zM287.43 1377.73l5.29 9.1h-10.59zM292.38 1396.75l5.29 9.1h-10.59zM281.43 1400.14l5.29 9.1h-10.59zM271.79 1404.05l5.29 9.1h-10.59zM302.28 1403.27l5.29 9.1h-10.59zM292.38 1406.65l5.29 9.1h-10.59zM282.21 1413.69l5.29 9.1h-10.59z" fill="#0808f8"/>
<line x1="164.84" y1="1077.65" x2="288.84" y2="1077.65" stroke="#0a0a0a" stroke-width="2.33"/>
<line x1="166.25" y1="1077.65" x2="166.25" y2="1093.03" stroke="#0a0a0a" stroke-width="2.82"/>
<line x1="287.43" y1="1077.65" x2="287.43" y2="1093.03" stroke="#0a0a0a" stroke-width="2.82"/>
<text transform="translate(229.31 1073.17)" font-size="26.72" stroke-width="0.35" class="s" letter-spacing="4.95">*</text>
<line x1="164.84" y1="1134.2" x2="228.64" y2="1134.2" stroke="#0a0a0a" stroke-width="2.33"/>
<line x1="166.25" y1="1134.2" x2="166.25" y2="1149.84" stroke="#0a0a0a" stroke-width="2.82"/>
<line x1="227.23" y1="1134.2" x2="227.23" y2="1149.84" stroke="#0a0a0a" stroke-width="2.82"/>
<text transform="translate(199.22 1129.72)" font-size="26.72" stroke-width="0.35" class="s" letter-spacing="4.95">**</text>
</g>
<g id="p-IL22">
<text transform="translate(608.53 1033.66) scale(0.94 1)" font-size="32.6" stroke-width="0.3">IL22</text>
<rect x="539.11" y="1352.72" width="39.31" height="68.64" fill="#7f7f7f" stroke="#161616" stroke-width="1.86"/>
<path d="M540.94 1419.87V1354.56H576.58V1419.87" fill="none" stroke="#fff" stroke-opacity="0.3" stroke-width="0.9"/>
<rect x="602.43" y="1407.45" width="39.31" height="13.92" fill="#a3a3a3" stroke="#161616" stroke-width="1.86"/>
<path d="M604.26 1419.87V1409.28H639.91V1419.87" fill="none" stroke="#fff" stroke-opacity="0.3" stroke-width="0.9"/>
<rect x="665.75" y="1406.93" width="39.05" height="14.44" fill="#7f7f7f" stroke="#161616" stroke-width="1.86"/>
<path d="M667.58 1419.87V1408.76H702.97V1419.87" fill="none" stroke="#fff" stroke-opacity="0.3" stroke-width="0.9"/>
<path d="M548.6 1315.31H568.93M548.6 1386.19H568.93M558.5 1315.31V1386.19" fill="none" stroke="#0a0a0a" stroke-width="1.66"/>
<path d="M611.92 1403.91H631.99M611.92 1409.12H631.99M621.82 1403.91V1409.12" fill="none" stroke="#0a0a0a" stroke-width="1.66"/>
<path d="M675.24 1403.91H695.31M675.24 1408.6H695.31M685.41 1403.91V1408.6" fill="none" stroke="#0a0a0a" stroke-width="1.66"/>
<line x1="516.55" y1="1139.47" x2="516.55" y2="1422.61" stroke="#0a0a0a" stroke-width="2.8"/>
<line x1="503.26" y1="1421.37" x2="729.19" y2="1421.37" stroke="#0a0a0a" stroke-width="2.49"/>
<line x1="503.26" y1="1140.72" x2="516.55" y2="1140.72" stroke="#0a0a0a" stroke-width="2.49"/>
<text transform="translate(499.74 1148.33) scale(1.03 1)" font-size="21.44" stroke-width="0.25" text-anchor="end">4</text>
<line x1="503.26" y1="1210.81" x2="516.55" y2="1210.81" stroke="#0a0a0a" stroke-width="2.49"/>
<text transform="translate(499.74 1218.42) scale(1.03 1)" font-size="21.44" stroke-width="0.25" text-anchor="end">3</text>
<line x1="503.26" y1="1280.91" x2="516.55" y2="1280.91" stroke="#0a0a0a" stroke-width="2.49"/>
<text transform="translate(499.74 1288.52) scale(1.03 1)" font-size="21.44" stroke-width="0.25" text-anchor="end">2</text>
<line x1="503.26" y1="1351.27" x2="516.55" y2="1351.27" stroke="#0a0a0a" stroke-width="2.49"/>
<text transform="translate(499.74 1358.88) scale(1.03 1)" font-size="21.44" stroke-width="0.25" text-anchor="end">1</text>
<line x1="503.26" y1="1421.37" x2="516.55" y2="1421.37" stroke="#0a0a0a" stroke-width="2.49"/>
<text transform="translate(499.74 1428.98) scale(1.03 1)" font-size="21.44" stroke-width="0.25" text-anchor="end">0</text>
<line x1="558.5" y1="1421.37" x2="558.5" y2="1433.09" stroke="#0a0a0a" stroke-width="3.42"/>
<line x1="621.82" y1="1421.37" x2="621.82" y2="1433.09" stroke="#0a0a0a" stroke-width="3.42"/>
<line x1="685.41" y1="1421.37" x2="685.41" y2="1433.09" stroke="#0a0a0a" stroke-width="3.42"/>
<text transform="translate(563.68 1452.77) scale(1.15 1) rotate(-45)" font-size="21.02" stroke-width="0.5" text-anchor="end" x="-3.42">Ctrl</text>
<text transform="translate(627 1452.77) scale(1.15 1) rotate(-45)" font-size="21.02" stroke-width="0.5" text-anchor="end" x="2.28">+CsA</text>
<text transform="translate(690.59 1452.77) scale(1.15 1) rotate(-45)" font-size="21.02" stroke-width="0.5" text-anchor="end" x="1.97">+Voc</text>
<text transform="translate(442.7 1280.76) scale(1.18 1) rotate(-90)" font-size="23.51" stroke-width="0.5">IL22 concentration</text>
<text transform="translate(473.6 1280.95) scale(1.18 1) rotate(-90)" font-size="23.45" stroke-width="0.5">normalized</text>
<ellipse cx="559.02" cy="1218.37" rx="5.18" ry="4.61" fill="#0a0a0a"/>
<ellipse cx="559.02" cy="1333.03" rx="5.18" ry="4.61" fill="#0a0a0a"/>
<ellipse cx="559.02" cy="1396.87" rx="5.18" ry="4.61" fill="#0a0a0a"/>
<ellipse cx="542.35" cy="1404.69" rx="5.18" ry="4.61" fill="#0a0a0a"/>
<ellipse cx="574.66" cy="1400.78" rx="5.18" ry="4.61" fill="#0a0a0a"/>
<path d="M600.33 1395.34h10.15v9.32h-10.15zM627.17 1396.64h10.15v9.32h-10.15zM606.85 1401.33h10.15v9.32h-10.15zM613.36 1401.85h10.15v9.32h-10.15zM620.4 1402.64h10.15v9.32h-10.15zM633.69 1399.25h10.15v9.32h-10.15zM627.17 1408.37h10.15v9.32h-10.15z" fill="#08c208"/>
<path d="M681.76 1393.41l5.54 9.53h-11.08zM694.79 1395.24l5.54 9.53h-11.08zM674.46 1397.32l5.54 9.53h-11.08zM668.73 1403.84l5.54 9.53h-11.08zM688.27 1400.97l5.54 9.53h-11.08zM701.3 1401.75l5.54 9.53h-11.08zM681.76 1404.88l5.54 9.53h-11.08zM694.79 1406.96l5.54 9.53h-11.08z" fill="#0808f8"/>
<line x1="557" y1="1125.6" x2="687.17" y2="1125.6" stroke="#0a0a0a" stroke-width="2.69"/>
<line x1="558.5" y1="1125.6" x2="558.5" y2="1142.54" stroke="#0a0a0a" stroke-width="3"/>
<line x1="685.67" y1="1125.6" x2="685.67" y2="1142.54" stroke="#0a0a0a" stroke-width="3"/>
<text transform="translate(624.67 1120.91)" font-size="27.96" stroke-width="0.35" class="s" letter-spacing="5.18">*</text>
<line x1="557" y1="1184.5" x2="623.85" y2="1184.5" stroke="#0a0a0a" stroke-width="2.69"/>
<line x1="558.5" y1="1184.5" x2="558.5" y2="1201.95" stroke="#0a0a0a" stroke-width="3"/>
<line x1="622.35" y1="1184.5" x2="622.35" y2="1201.95" stroke="#0a0a0a" stroke-width="3"/>
<text transform="translate(593.01 1179.8)" font-size="27.96" stroke-width="0.35" class="s" letter-spacing="5.18">*</text>
</g>
<g id="p-IFNg">
<text transform="translate(992.7 1033.66) scale(0.94 1)" font-size="32.6" stroke-width="0.3">IFNγ</text>
<rect x="939.39" y="1251.05" width="37.32" height="175.53" fill="#7f7f7f" stroke="#161616" stroke-width="1.77"/>
<path d="M941.17 1425.08V1252.83H974.92V1425.08" fill="none" stroke="#fff" stroke-opacity="0.3" stroke-width="0.9"/>
<rect x="998.54" y="1380.04" width="37.58" height="46.54" fill="#a3a3a3" stroke="#161616" stroke-width="1.77"/>
<path d="M1000.32 1425.08V1381.82H1034.33V1425.08" fill="none" stroke="#fff" stroke-opacity="0.3" stroke-width="0.9"/>
<rect x="1059.26" y="1383.43" width="37.32" height="43.15" fill="#7f7f7f" stroke="#161616" stroke-width="1.77"/>
<path d="M1061.04 1425.08V1385.21H1094.79V1425.08" fill="none" stroke="#fff" stroke-opacity="0.3" stroke-width="0.9"/>
<path d="M948.14 1218.37H967.69M948.14 1280.65H967.69M957.52 1218.37V1280.65" fill="none" stroke="#0a0a0a" stroke-width="1.57"/>
<path d="M1007.56 1366.91H1027.62M1007.56 1390.36H1027.62M1017.46 1366.91V1390.36" fill="none" stroke="#0a0a0a" stroke-width="1.57"/>
<path d="M1068.01 1373.16H1087.56M1068.01 1390.88H1087.56M1077.92 1373.16V1390.88" fill="none" stroke="#0a0a0a" stroke-width="1.57"/>
<line x1="918.18" y1="1158.98" x2="918.18" y2="1427.86" stroke="#0a0a0a" stroke-width="2.51"/>
<line x1="905.93" y1="1426.58" x2="1119.09" y2="1426.58" stroke="#0a0a0a" stroke-width="2.56"/>
<line x1="904.89" y1="1160.26" x2="918.18" y2="1160.26" stroke="#0a0a0a" stroke-width="2.56"/>
<text transform="translate(901.54 1167.48) scale(1.11 1)" font-size="20.34" stroke-width="0.25" text-anchor="end">1.5</text>
<line x1="904.89" y1="1249.64" x2="918.18" y2="1249.64" stroke="#0a0a0a" stroke-width="2.56"/>
<text transform="translate(901.54 1256.86) scale(1.11 1)" font-size="20.34" stroke-width="0.25" text-anchor="end">1.0</text>
<line x1="904.89" y1="1337.98" x2="918.18" y2="1337.98" stroke="#0a0a0a" stroke-width="2.56"/>
<text transform="translate(901.54 1345.2) scale(1.11 1)" font-size="20.34" stroke-width="0.25" text-anchor="end">0.5</text>
<line x1="904.89" y1="1426.58" x2="918.18" y2="1426.58" stroke="#0a0a0a" stroke-width="2.56"/>
<text transform="translate(901.54 1433.8) scale(1.11 1)" font-size="20.34" stroke-width="0.25" text-anchor="end">0.0</text>
<line x1="957.52" y1="1426.58" x2="957.52" y2="1437.79" stroke="#0a0a0a" stroke-width="3.24"/>
<line x1="1017.46" y1="1426.58" x2="1017.46" y2="1437.79" stroke="#0a0a0a" stroke-width="3.24"/>
<line x1="1077.92" y1="1426.58" x2="1077.92" y2="1437.79" stroke="#0a0a0a" stroke-width="3.24"/>
<text transform="translate(962.44 1456.46) scale(1.15 1) rotate(-45)" font-size="19.95" stroke-width="0.5" text-anchor="end" x="-3.24">Ctrl</text>
<text transform="translate(1022.37 1456.46) scale(1.15 1) rotate(-45)" font-size="19.95" stroke-width="0.5" text-anchor="end" x="2.16">+CsA</text>
<text transform="translate(1082.83 1456.46) scale(1.15 1) rotate(-45)" font-size="19.95" stroke-width="0.5" text-anchor="end" x="1.87">+Voc</text>
<text transform="translate(836.2 1292.75) scale(1.2 1) rotate(-90)" font-size="22.29" stroke-width="0.5">IFNγ concentration</text>
<text transform="translate(865.6 1293) scale(1.17 1) rotate(-90)" font-size="22.07" stroke-width="0.5">normalized</text>
<ellipse cx="948.4" cy="1201.43" rx="4.91" ry="4.37" fill="#0a0a0a"/>
<ellipse cx="967.17" cy="1202.74" rx="4.91" ry="4.37" fill="#0a0a0a"/>
<ellipse cx="958.05" cy="1215.5" rx="4.91" ry="4.37" fill="#0a0a0a"/>
<ellipse cx="958.05" cy="1261.89" rx="4.91" ry="4.37" fill="#0a0a0a"/>
<ellipse cx="958.05" cy="1365.34" rx="4.91" ry="4.37" fill="#0a0a0a"/>
<path d="M1012.64 1306.98h9.63v8.84h-9.63zM1012.64 1348.67h9.63v8.84h-9.63zM997.53 1374.73h9.63v8.84h-9.63zM1028.28 1378.12h9.63v8.84h-9.63zM1012.64 1379.94h9.63v8.84h-9.63zM1012.64 1392.45h9.63v8.84h-9.63zM1004.83 1406.78h9.63v8.84h-9.63zM1020.98 1405.22h9.63v8.84h-9.63z" fill="#08c208"/>
<path d="M1077.92 1337.63l5.26 9.04h-10.52zM1068.79 1358.48l5.26 9.04h-10.52zM1086.51 1361.08l5.26 9.04h-10.52zM1068.79 1368.64l5.26 9.04h-10.52zM1068.79 1392.87l5.26 9.04h-10.52zM1086.51 1392.87l5.26 9.04h-10.52zM1068.79 1409.03l5.26 9.04h-10.52zM1086.51 1405.9l5.26 9.04h-10.52z" fill="#0808f8"/>
<line x1="956.12" y1="1113.36" x2="1079.32" y2="1113.36" stroke="#0a0a0a" stroke-width="2.31"/>
<line x1="957.52" y1="1113.36" x2="957.52" y2="1129.51" stroke="#0a0a0a" stroke-width="2.8"/>
<line x1="1077.92" y1="1113.36" x2="1077.92" y2="1129.51" stroke="#0a0a0a" stroke-width="2.8"/>
<text transform="translate(1020.18 1108.9)" font-size="26.53" stroke-width="0.35" class="s" letter-spacing="4.91">****</text>
<line x1="956.12" y1="1170.16" x2="1019.38" y2="1170.16" stroke="#0a0a0a" stroke-width="2.31"/>
<line x1="957.52" y1="1170.16" x2="957.52" y2="1185.54" stroke="#0a0a0a" stroke-width="2.8"/>
<line x1="1017.98" y1="1170.16" x2="1017.98" y2="1185.54" stroke="#0a0a0a" stroke-width="2.8"/>
<text transform="translate(990.21 1165.71)" font-size="26.53" stroke-width="0.35" class="s" letter-spacing="4.91">****</text>
</g>
<g id="p-IL9">
<text transform="translate(1400.8 1046.68) scale(0.94 1)" font-size="32.6" stroke-width="0.3">IL9</text>
<rect x="1346.18" y="1240.11" width="37.57" height="176.05" fill="#7f7f7f" stroke="#161616" stroke-width="1.77"/>
<path d="M1347.97 1414.66V1241.89H1381.97V1414.66" fill="none" stroke="#fff" stroke-opacity="0.3" stroke-width="0.9"/>
<rect x="1406.12" y="1290.92" width="37.31" height="125.24" fill="#a3a3a3" stroke="#161616" stroke-width="1.77"/>
<path d="M1407.9 1414.66V1292.71H1441.64V1414.66" fill="none" stroke="#fff" stroke-opacity="0.3" stroke-width="0.9"/>
<rect x="1466.31" y="1307.6" width="37.31" height="108.56" fill="#7f7f7f" stroke="#161616" stroke-width="1.77"/>
<path d="M1468.1 1414.66V1309.38H1501.84V1414.66" fill="none" stroke="#fff" stroke-opacity="0.3" stroke-width="0.9"/>
<path d="M1354.41 1233.22H1374.22M1354.41 1243.65H1374.22M1364.32 1233.22V1243.65" fill="none" stroke="#0a0a0a" stroke-width="1.58"/>
<path d="M1414.61 1270.23H1434.67M1414.61 1308.79H1434.67M1424.77 1270.23V1308.79" fill="none" stroke="#0a0a0a" stroke-width="1.58"/>
<path d="M1475.07 1282.21H1494.61M1475.07 1329.64H1494.61M1484.97 1282.21V1329.64" fill="none" stroke="#0a0a0a" stroke-width="1.58"/>
<line x1="1325.23" y1="1147.77" x2="1325.23" y2="1417.44" stroke="#0a0a0a" stroke-width="2.51"/>
<line x1="1312.2" y1="1416.16" x2="1525.88" y2="1416.16" stroke="#0a0a0a" stroke-width="2.56"/>
<line x1="1312.2" y1="1149.06" x2="1325.23" y2="1149.06" stroke="#0a0a0a" stroke-width="2.56"/>
<text transform="translate(1308.85 1156.3) scale(1.11 1)" font-size="20.4" stroke-width="0.25" text-anchor="end">1.5</text>
<line x1="1312.2" y1="1238.44" x2="1325.23" y2="1238.44" stroke="#0a0a0a" stroke-width="2.56"/>
<text transform="translate(1308.85 1245.68) scale(1.11 1)" font-size="20.4" stroke-width="0.25" text-anchor="end">1.0</text>
<line x1="1312.2" y1="1327.04" x2="1325.23" y2="1327.04" stroke="#0a0a0a" stroke-width="2.56"/>
<text transform="translate(1308.85 1334.28) scale(1.11 1)" font-size="20.4" stroke-width="0.25" text-anchor="end">0.5</text>
<line x1="1312.2" y1="1416.16" x2="1325.23" y2="1416.16" stroke="#0a0a0a" stroke-width="2.56"/>
<text transform="translate(1308.85 1423.4) scale(1.11 1)" font-size="20.4" stroke-width="0.25" text-anchor="end">0.0</text>
<line x1="1364.32" y1="1416.16" x2="1364.32" y2="1427.36" stroke="#0a0a0a" stroke-width="3.25"/>
<line x1="1424.77" y1="1416.16" x2="1424.77" y2="1427.36" stroke="#0a0a0a" stroke-width="3.25"/>
<line x1="1484.97" y1="1416.16" x2="1484.97" y2="1427.36" stroke="#0a0a0a" stroke-width="3.25"/>
<text transform="translate(1369.24 1446.09) scale(1.15 1) rotate(-45)" font-size="20.01" stroke-width="0.5" text-anchor="end" x="-3.25">Ctrl</text>
<text transform="translate(1429.7 1446.09) scale(1.15 1) rotate(-45)" font-size="20.01" stroke-width="0.5" text-anchor="end" x="2.17">+CsA</text>
<text transform="translate(1489.9 1446.09) scale(1.15 1) rotate(-45)" font-size="20.01" stroke-width="0.5" text-anchor="end" x="1.87">+Voc</text>
<text transform="translate(1234.2 1282) scale(1.2 1) rotate(-90)" font-size="22.39" stroke-width="0.5">IL9 concentration</text>
<text transform="translate(1263.6 1282.2) scale(1.16 1) rotate(-90)" font-size="22.3" stroke-width="0.5">normalized</text>
<ellipse cx="1349.2" cy="1232.44" rx="4.93" ry="4.39" fill="#0a0a0a"/>
<ellipse cx="1380.73" cy="1225.41" rx="4.93" ry="4.39" fill="#0a0a0a"/>
<ellipse cx="1364.84" cy="1239.74" rx="4.93" ry="4.39" fill="#0a0a0a"/>
<ellipse cx="1379.95" cy="1236.61" rx="4.93" ry="4.39" fill="#0a0a0a"/>
<ellipse cx="1364.84" cy="1256.68" rx="4.93" ry="4.39" fill="#0a0a0a"/>
<path d="M1419.94 1228.27h9.66v8.87h-9.66zM1419.94 1237.91h9.66v8.87h-9.66zM1429.32 1247.81h9.66v8.87h-9.66zM1410.82 1253.55h9.66v8.87h-9.66zM1419.94 1278.3h9.66v8.87h-9.66zM1419.94 1315.3h9.66v8.87h-9.66zM1419.94 1335.11h9.66v8.87h-9.66zM1419.94 1383.84h9.66v8.87h-9.66z" fill="#08c208"/>
<path d="M1476.37 1232.6l5.27 9.07h-10.55zM1494.61 1226.87l5.27 9.07h-10.55zM1484.97 1257.36l5.27 9.07h-10.55zM1484.97 1276.9l5.27 9.07h-10.55zM1484.97 1290.71l5.27 9.07h-10.55zM1476.37 1357.16l5.27 9.07h-10.55zM1494.61 1364.2l5.27 9.07h-10.55zM1484.97 1408.5l5.27 9.07h-10.55z" fill="#0808f8"/>
</g>
<g id="p-Itk">
<text transform="translate(380.56 1556.11) scale(0.98 1)" font-size="34.3" font-style="italic" stroke-width="0.3">Itk</text>
<rect x="320.59" y="1837.35" width="46.58" height="121.11" fill="#7f7f7f" stroke="#161616" stroke-width="1.8"/>
<path d="M322.39 1956.96V1839.15H365.37V1956.96" fill="none" stroke="#fff" stroke-opacity="0.3" stroke-width="0.9"/>
<rect x="393.43" y="1921.08" width="46.31" height="37.38" fill="#c4f4c4" stroke="#161616" stroke-width="1.8"/>
<path d="M395.23 1956.96V1922.88H437.94V1956.96" fill="none" stroke="#fff" stroke-opacity="0.3" stroke-width="0.9"/>
<rect x="466.26" y="1922.41" width="46.58" height="36.05" fill="#c4c4f0" stroke="#161616" stroke-width="1.8"/>
<path d="M468.06 1956.96V1924.21H511.04V1956.96" fill="none" stroke="#fff" stroke-opacity="0.3" stroke-width="0.9"/>
<path d="M332.72 1794.45H355.84M332.72 1877.65H355.84M344.15 1794.45V1877.65" fill="none" stroke="#0a0a0a" stroke-width="1.7"/>
<path d="M405.82 1915.4H428.41M405.82 1923.37H428.41M417.25 1915.4V1923.37" fill="none" stroke="#0a0a0a" stroke-width="1.7"/>
<path d="M478.12 1910.88H501.51M478.12 1930.81H501.51M490.08 1910.88V1930.81" fill="none" stroke="#0a0a0a" stroke-width="1.7"/>
<line x1="295.9" y1="1659.24" x2="295.9" y2="1959.96" stroke="#0a0a0a" stroke-width="3.4"/>
<line x1="280.88" y1="1958.46" x2="540.05" y2="1958.46" stroke="#0a0a0a" stroke-width="3"/>
<line x1="280.88" y1="1660.74" x2="295.9" y2="1660.74" stroke="#0a0a0a" stroke-width="3"/>
<text transform="translate(276.88 1668.13) scale(1.14 1)" font-size="23" stroke-width="0.7" text-anchor="end">150</text>
<line x1="280.88" y1="1759.89" x2="295.9" y2="1759.89" stroke="#0a0a0a" stroke-width="3"/>
<text transform="translate(276.88 1767.28) scale(1.14 1)" font-size="23" stroke-width="0.7" text-anchor="end">100</text>
<line x1="280.88" y1="1859.04" x2="295.9" y2="1859.04" stroke="#0a0a0a" stroke-width="3"/>
<text transform="translate(276.88 1866.43) scale(1.14 1)" font-size="23" stroke-width="0.7" text-anchor="end">50</text>
<line x1="280.88" y1="1958.46" x2="295.9" y2="1958.46" stroke="#0a0a0a" stroke-width="3"/>
<text transform="translate(276.88 1965.84) scale(1.14 1)" font-size="23" stroke-width="0.7" text-anchor="end">0</text>
<line x1="344.15" y1="1958.46" x2="344.15" y2="1970.68" stroke="#0a0a0a" stroke-width="3.4"/>
<line x1="417.25" y1="1958.46" x2="417.25" y2="1970.68" stroke="#0a0a0a" stroke-width="3.4"/>
<line x1="490.08" y1="1958.46" x2="490.08" y2="1970.68" stroke="#0a0a0a" stroke-width="3.4"/>
<text transform="translate(350.65 1992.69) scale(1.25 1) rotate(-45)" font-size="22.3" stroke-width="0.5" text-anchor="end" x="-3.3">Ctrl</text>
<text transform="translate(423.75 1992.69) scale(1.25 1) rotate(-45)" font-size="22.3" stroke-width="0.5" text-anchor="end" x="2.2">+CsA</text>
<text transform="translate(496.58 1992.69) scale(1.25 1) rotate(-45)" font-size="22.3" stroke-width="0.5" text-anchor="end" x="1.9">+Voc</text>
<text transform="translate(181.6 1807.27) scale(1.12 1) rotate(-90)" font-size="27.16" font-weight="normal" stroke-width="1">rel. expression of <tspan font-style="italic">Itk</tspan></text>
<text transform="translate(217 1808.1) scale(1.17 1) rotate(-90)" font-size="25.18" font-weight="normal" stroke-width="1">mean ± SEM</text>
<ellipse cx="344.68" cy="1708.59" rx="6.1" ry="5.2" fill="#0a0a0a"/>
<ellipse cx="344.68" cy="1787.01" rx="6.1" ry="5.2" fill="#0a0a0a"/>
<ellipse cx="344.68" cy="1839.64" rx="6.1" ry="5.2" fill="#0a0a0a"/>
<ellipse cx="344.68" cy="1902.1" rx="6.1" ry="5.2" fill="#0a0a0a"/>
<ellipse cx="344.68" cy="1944.63" rx="6.1" ry="5.2" fill="#0a0a0a"/>
<path d="M392.01 1911.13h10.6v9.6h-10.6zM430.29 1903.42h10.6v9.6h-10.6zM417.79 1911.39h10.6v9.6h-10.6zM405.83 1916.71h10.6v9.6h-10.6zM430.29 1917.24h10.6v9.6h-10.6zM411.15 1927.87h10.6v9.6h-10.6z" fill="#08c208"/>
<path d="M489.55 1860.89l5.7 9.6h-11.4zM489.55 1904.48l5.7 9.6h-11.4zM470.94 1911.92l5.7 9.6h-11.4zM508.16 1911.13l5.7 9.6h-11.4zM489.55 1923.09l5.7 9.6h-11.4zM480.24 1935.05l5.7 9.6h-11.4zM498.85 1936.38l5.7 9.6h-11.4zM489.55 1949.14l5.7 9.6h-11.4z" fill="#0808f8"/>
<line x1="342.4" y1="1610.24" x2="492.1" y2="1610.24" stroke="#0a0a0a" stroke-width="3.1"/>
<line x1="344.15" y1="1610.24" x2="344.15" y2="1627.52" stroke="#0a0a0a" stroke-width="3.5"/>
<line x1="490.35" y1="1610.24" x2="490.35" y2="1627.52" stroke="#0a0a0a" stroke-width="3.5"/>
<text transform="translate(419.87 1605.03) scale(1.05 1)" font-size="29" stroke-width="0.35" class="s" letter-spacing="5">*</text>
<line x1="342.4" y1="1672.7" x2="419" y2="1672.7" stroke="#0a0a0a" stroke-width="3.1"/>
<line x1="344.15" y1="1672.7" x2="344.15" y2="1689.98" stroke="#0a0a0a" stroke-width="3.5"/>
<line x1="417.25" y1="1672.7" x2="417.25" y2="1689.98" stroke="#0a0a0a" stroke-width="3.5"/>
<text transform="translate(383.32 1667.49) scale(1.05 1)" font-size="29" stroke-width="0.35" class="s" letter-spacing="5">*</text>
</g>
<g id="p-Zap70">
<text transform="translate(851.3 1556.11) scale(0.98 1)" font-size="34.3" font-style="italic" stroke-width="0.3">Zap70</text>
<rect x="770.35" y="1832.66" width="47.33" height="121.88" fill="#7f7f7f" stroke="#161616" stroke-width="1.85"/>
<path d="M772.17 1953.04V1834.48H815.85V1953.04" fill="none" stroke="#fff" stroke-opacity="0.3" stroke-width="0.9"/>
<rect x="845.58" y="1924.89" width="47.06" height="29.64" fill="#c4f4c4" stroke="#161616" stroke-width="1.85"/>
<path d="M847.4 1953.04V1926.72H890.81V1953.04" fill="none" stroke="#fff" stroke-opacity="0.3" stroke-width="0.9"/>
<rect x="921.07" y="1926.22" width="46.8" height="28.32" fill="#c4c4f0" stroke="#161616" stroke-width="1.85"/>
<path d="M922.89 1953.04V1928.05H966.04V1953.04" fill="none" stroke="#fff" stroke-opacity="0.3" stroke-width="0.9"/>
<path d="M782.19 1786.54H806.64M782.19 1875.59H806.64M793.88 1786.54V1875.59" fill="none" stroke="#0a0a0a" stroke-width="1.75"/>
<path d="M856.61 1916.53H881.6M856.61 1929.29H881.6M869.11 1916.53V1929.29" fill="none" stroke="#0a0a0a" stroke-width="1.75"/>
<path d="M932.37 1918.65H956.29M932.37 1930.61H956.29M944.07 1918.65V1930.61" fill="none" stroke="#0a0a0a" stroke-width="1.75"/>
<line x1="744.17" y1="1647.31" x2="744.17" y2="1956.08" stroke="#0a0a0a" stroke-width="3.49"/>
<line x1="728.22" y1="1954.54" x2="996.7" y2="1954.54" stroke="#0a0a0a" stroke-width="3.08"/>
<line x1="728.22" y1="1648.85" x2="744.17" y2="1648.85" stroke="#0a0a0a" stroke-width="3.08"/>
<text transform="translate(724.12 1656.43) scale(1.14 1)" font-size="23.62" stroke-width="0.7" text-anchor="end">500</text>
<line x1="728.22" y1="1709.99" x2="744.17" y2="1709.99" stroke="#0a0a0a" stroke-width="3.08"/>
<text transform="translate(724.12 1717.57) scale(1.14 1)" font-size="23.62" stroke-width="0.7" text-anchor="end">400</text>
<line x1="728.22" y1="1771.13" x2="744.17" y2="1771.13" stroke="#0a0a0a" stroke-width="3.08"/>
<text transform="translate(724.12 1778.71) scale(1.14 1)" font-size="23.62" stroke-width="0.7" text-anchor="end">300</text>
<line x1="728.22" y1="1832.26" x2="744.17" y2="1832.26" stroke="#0a0a0a" stroke-width="3.08"/>
<text transform="translate(724.12 1839.84) scale(1.14 1)" font-size="23.62" stroke-width="0.7" text-anchor="end">200</text>
<line x1="728.22" y1="1893.4" x2="744.17" y2="1893.4" stroke="#0a0a0a" stroke-width="3.08"/>
<text transform="translate(724.12 1900.98) scale(1.14 1)" font-size="23.62" stroke-width="0.7" text-anchor="end">100</text>
<line x1="728.22" y1="1954.54" x2="744.17" y2="1954.54" stroke="#0a0a0a" stroke-width="3.08"/>
<text transform="translate(724.12 1962.12) scale(1.14 1)" font-size="23.62" stroke-width="0.7" text-anchor="end">0</text>
<line x1="793.88" y1="1954.54" x2="793.88" y2="1967.83" stroke="#0a0a0a" stroke-width="3.49"/>
<line x1="869.11" y1="1954.54" x2="869.11" y2="1967.83" stroke="#0a0a0a" stroke-width="3.49"/>
<line x1="944.07" y1="1954.54" x2="944.07" y2="1967.83" stroke="#0a0a0a" stroke-width="3.49"/>
<text transform="translate(800.56 1990.42) scale(1.25 1) rotate(-45)" font-size="22.9" stroke-width="0.5" text-anchor="end" x="-3.39">Ctrl</text>
<text transform="translate(875.78 1990.42) scale(1.25 1) rotate(-45)" font-size="22.9" stroke-width="0.5" text-anchor="end" x="2.26">+CsA</text>
<text transform="translate(950.74 1990.42) scale(1.25 1) rotate(-45)" font-size="22.9" stroke-width="0.5" text-anchor="end" x="1.95">+Voc</text>
<text transform="translate(627.7 1798.99) scale(1.09 1) rotate(-90)" font-size="27.28" font-weight="normal" stroke-width="1">rel. expression <tspan font-style="italic">of Zap70</tspan></text>
<text transform="translate(663.9 1799.54) scale(1.18 1) rotate(-90)" font-size="26.4" font-weight="normal" stroke-width="1">mean ± SEM</text>
<ellipse cx="794.68" cy="1699.35" rx="6.26" ry="5.34" fill="#0a0a0a"/>
<ellipse cx="794.68" cy="1759.96" rx="6.26" ry="5.34" fill="#0a0a0a"/>
<ellipse cx="794.68" cy="1857.52" rx="6.26" ry="5.34" fill="#0a0a0a"/>
<ellipse cx="794.68" cy="1894.2" rx="6.26" ry="5.34" fill="#0a0a0a"/>
<ellipse cx="794.68" cy="1944.44" rx="6.26" ry="5.34" fill="#0a0a0a"/>
<path d="M844.53 1896.98h10.88v9.86h-10.88zM864.2 1899.1h10.88v9.86h-10.88zM844.53 1924.36h10.88v9.86h-10.88zM864.2 1923.83h10.88v9.86h-10.88zM883.6 1929.67h10.88v9.86h-10.88zM844.53 1934.46h10.88v9.86h-10.88z" fill="#08c208"/>
<path d="M938.22 1897.24l5.85 9.86h-11.71zM950.98 1895.91l5.85 9.86h-11.71zM938.22 1919.04l5.85 9.86h-11.71zM924.93 1924.36l5.85 9.86h-11.71zM950.98 1925.69l5.85 9.86h-11.71zM938.22 1930.2l5.85 9.86h-11.71zM963.47 1932.33l5.85 9.86h-11.71zM944.07 1942.96l5.85 9.86h-11.71z" fill="#0808f8"/>
<line x1="792.08" y1="1597.81" x2="946.13" y2="1597.81" stroke="#0a0a0a" stroke-width="3.18"/>
<line x1="793.88" y1="1597.81" x2="793.88" y2="1615.62" stroke="#0a0a0a" stroke-width="3.59"/>
<line x1="944.33" y1="1597.81" x2="944.33" y2="1615.62" stroke="#0a0a0a" stroke-width="3.59"/>
<text transform="translate(871.8 1592.46) scale(1.05 1)" font-size="29.78" stroke-width="0.35" class="s" letter-spacing="5.13">*</text>
<line x1="792.08" y1="1662.14" x2="870.9" y2="1662.14" stroke="#0a0a0a" stroke-width="3.18"/>
<line x1="793.88" y1="1662.14" x2="793.88" y2="1680.22" stroke="#0a0a0a" stroke-width="3.59"/>
<line x1="869.11" y1="1662.14" x2="869.11" y2="1680.22" stroke="#0a0a0a" stroke-width="3.59"/>
<text transform="translate(834.19 1656.79) scale(1.05 1)" font-size="29.78" stroke-width="0.35" class="s" letter-spacing="5.13">*</text>
</g>
<g id="p-Lck">
<text transform="translate(1318.54 1556.11) scale(0.98 1)" font-size="34.3" font-style="italic" stroke-width="0.3">Lck</text>
<rect x="1236.21" y="1847.69" width="44.24" height="113.43" fill="#7f7f7f" stroke="#161616" stroke-width="1.75"/>
<path d="M1237.98 1959.62V1849.46H1278.68V1959.62" fill="none" stroke="#fff" stroke-opacity="0.3" stroke-width="0.9"/>
<rect x="1306.65" y="1922.12" width="44.24" height="39" fill="#c4f4c4" stroke="#161616" stroke-width="1.75"/>
<path d="M1308.43 1959.62V1923.89H1349.12V1959.62" fill="none" stroke="#fff" stroke-opacity="0.3" stroke-width="0.9"/>
<rect x="1377.89" y="1926.37" width="43.97" height="34.75" fill="#c4c4f0" stroke="#161616" stroke-width="1.75"/>
<path d="M1379.66 1959.62V1928.14H1420.09V1959.62" fill="none" stroke="#fff" stroke-opacity="0.3" stroke-width="0.9"/>
<path d="M1246.77 1800.56H1269.36M1246.77 1891.47H1269.36M1258.2 1800.56V1891.47" fill="none" stroke="#0a0a0a" stroke-width="1.65"/>
<path d="M1317.21 1912.21H1340.33M1317.21 1928.69H1340.33M1329.17 1912.21V1928.69" fill="none" stroke="#0a0a0a" stroke-width="1.65"/>
<path d="M1388.45 1918.05H1411.57M1388.45 1931.88H1411.57M1400.14 1918.05V1931.88" fill="none" stroke="#0a0a0a" stroke-width="1.65"/>
<line x1="1211.68" y1="1670.72" x2="1211.68" y2="1962.57" stroke="#0a0a0a" stroke-width="3.3"/>
<line x1="1196.26" y1="1961.12" x2="1448.26" y2="1961.12" stroke="#0a0a0a" stroke-width="2.91"/>
<line x1="1196.26" y1="1672.17" x2="1211.68" y2="1672.17" stroke="#0a0a0a" stroke-width="2.91"/>
<text transform="translate(1192.38 1679.34) scale(1.14 1)" font-size="22.32" stroke-width="0.7" text-anchor="end">800</text>
<line x1="1196.26" y1="1744.48" x2="1211.68" y2="1744.48" stroke="#0a0a0a" stroke-width="2.91"/>
<text transform="translate(1192.38 1751.64) scale(1.14 1)" font-size="22.32" stroke-width="0.7" text-anchor="end">600</text>
<line x1="1196.26" y1="1817.04" x2="1211.68" y2="1817.04" stroke="#0a0a0a" stroke-width="2.91"/>
<text transform="translate(1192.38 1824.21) scale(1.14 1)" font-size="22.32" stroke-width="0.7" text-anchor="end">400</text>
<line x1="1196.26" y1="1889.35" x2="1211.68" y2="1889.35" stroke="#0a0a0a" stroke-width="2.91"/>
<text transform="translate(1192.38 1896.51) scale(1.14 1)" font-size="22.32" stroke-width="0.7" text-anchor="end">200</text>
<line x1="1196.26" y1="1961.12" x2="1211.68" y2="1961.12" stroke="#0a0a0a" stroke-width="2.91"/>
<text transform="translate(1192.38 1968.28) scale(1.14 1)" font-size="22.32" stroke-width="0.7" text-anchor="end">0</text>
<line x1="1258.2" y1="1961.12" x2="1258.2" y2="1973.08" stroke="#0a0a0a" stroke-width="3.3"/>
<line x1="1329.17" y1="1961.12" x2="1329.17" y2="1973.08" stroke="#0a0a0a" stroke-width="3.3"/>
<line x1="1400.14" y1="1961.12" x2="1400.14" y2="1973.08" stroke="#0a0a0a" stroke-width="3.3"/>
<text transform="translate(1264.51 1994.43) scale(1.25 1) rotate(-45)" font-size="21.64" stroke-width="0.5" text-anchor="end" x="-3.2">Ctrl</text>
<text transform="translate(1335.48 1994.43) scale(1.25 1) rotate(-45)" font-size="21.64" stroke-width="0.5" text-anchor="end" x="2.14">+CsA</text>
<text transform="translate(1406.45 1994.43) scale(1.25 1) rotate(-45)" font-size="21.64" stroke-width="0.5" text-anchor="end" x="1.84">+Voc</text>
<text transform="translate(1099.8 1816.22) scale(1.08 1) rotate(-90)" font-size="26.21" font-weight="normal" stroke-width="1">rel. expression <tspan font-style="italic">of Lck</tspan></text>
<text transform="translate(1133.6 1814.96) scale(1.07 1) rotate(-90)" font-size="24.73" font-weight="normal" stroke-width="1">mean ± SEM</text>
<ellipse cx="1258.73" cy="1699.55" rx="5.92" ry="5.05" fill="#0a0a0a"/>
<ellipse cx="1258.73" cy="1797.64" rx="5.92" ry="5.05" fill="#0a0a0a"/>
<ellipse cx="1258.73" cy="1862.23" rx="5.92" ry="5.05" fill="#0a0a0a"/>
<ellipse cx="1258.73" cy="1920.18" rx="5.92" ry="5.05" fill="#0a0a0a"/>
<ellipse cx="1258.73" cy="1952.08" rx="5.92" ry="5.05" fill="#0a0a0a"/>
<path d="M1324.03 1883.62h10.29v9.32h-10.29zM1324.03 1901.43h10.29v9.32h-10.29zM1324.03 1924.82h10.29v9.32h-10.29zM1342.1 1921.37h10.29v9.32h-10.29zM1342.1 1931.2h10.29v9.32h-10.29zM1305.42 1932.8h10.29v9.32h-10.29z" fill="#08c208"/>
<path d="M1400.14 1891.6l5.53 9.32h-11.06zM1400.14 1904.09l5.53 9.32h-11.06zM1388.98 1917.38l5.53 9.32h-11.06zM1410.24 1921.37l5.53 9.32h-11.06zM1388.98 1931.2l5.53 9.32h-11.06zM1410.24 1936.52l5.53 9.32h-11.06zM1388.98 1945.29l5.53 9.32h-11.06z" fill="#0808f8"/>
<line x1="1256.5" y1="1594.56" x2="1402.11" y2="1594.56" stroke="#0a0a0a" stroke-width="3.01"/>
<line x1="1258.2" y1="1594.56" x2="1258.2" y2="1611.57" stroke="#0a0a0a" stroke-width="3.4"/>
<line x1="1400.41" y1="1594.56" x2="1400.41" y2="1611.57" stroke="#0a0a0a" stroke-width="3.4"/>
<text transform="translate(1331.85 1589.5) scale(1.05 1)" font-size="28.15" stroke-width="0.35" class="s" letter-spacing="4.85">*</text>
<line x1="1256.5" y1="1666.06" x2="1330.87" y2="1666.06" stroke="#0a0a0a" stroke-width="3.01"/>
<line x1="1258.2" y1="1666.06" x2="1258.2" y2="1686" stroke="#0a0a0a" stroke-width="3.4"/>
<line x1="1329.17" y1="1666.06" x2="1329.17" y2="1686" stroke="#0a0a0a" stroke-width="3.4"/>
<text transform="translate(1293.02 1657.55) scale(1.24 1)" font-size="23.88" font-weight="normal" stroke-width="0.15">p=0.0697</text>
</g>
<text transform="translate(21.3 36) scale(0.95 1)" font-size="35" stroke-width="0.5" text-anchor="start">A)</text>
<text transform="translate(21.6 1572.5) scale(0.95 1)" font-size="35" stroke-width="0.5" text-anchor="start">B)</text>
</g>
</svg>
</body>
</html>
